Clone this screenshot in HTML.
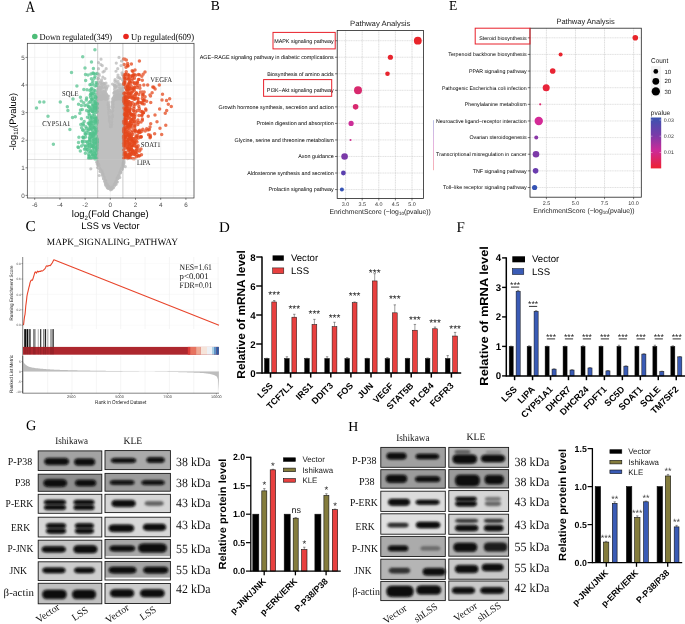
<!DOCTYPE html>
<html><head><meta charset="utf-8"><title>Figure</title>
<style>html,body{margin:0;padding:0;background:#fff;}svg{display:block;will-change:transform;}text{text-rendering:geometricPrecision;}</style></head>
<body><svg width="685" height="624" viewBox="0 0 685 624">
<defs>
<filter id="b1" x="-20%" y="-80%" width="140%" height="260%"><feGaussianBlur stdDeviation="0.85"/></filter>
<filter id="b3" x="-30%" y="-150%" width="160%" height="400%"><feGaussianBlur stdDeviation="1.8"/></filter>
<filter id="b2" x="-20%" y="-100%" width="140%" height="300%"><feGaussianBlur stdDeviation="0.65"/></filter>
<filter id="nz" x="0" y="0" width="100%" height="100%"><feTurbulence type="fractalNoise" baseFrequency="0.35" numOctaves="2" seed="3"/><feColorMatrix type="matrix" values="0 0 0 0 0  0 0 0 0 0  0 0 0 0 0  0 0 0 -0.9 0.55"/><feComposite in2="SourceGraphic" operator="in"/></filter>
</defs>
<rect width="685" height="624" fill="#fff"/>
<text transform="translate(25.5 11.7) scale(0.84 1)" font-family='"Liberation Serif", serif' font-size="15.8" fill="#000">A</text>
<text transform="translate(210.8 9.8) scale(1 1)" font-family='"Liberation Serif", serif' font-size="13.6" fill="#000">B</text>
<text transform="translate(448.9 9.8) scale(1 1)" font-family='"Liberation Serif", serif' font-size="13.6" fill="#000">E</text>
<text transform="translate(25.4 231.4) scale(1 1)" font-family='"Liberation Serif", serif' font-size="15.2" fill="#000">C</text>
<text transform="translate(219.1 231.7) scale(1 1)" font-family='"Liberation Serif", serif' font-size="15" fill="#000">D</text>
<text transform="translate(456.6 231.7) scale(1 1)" font-family='"Liberation Serif", serif' font-size="15" fill="#000">F</text>
<text transform="translate(26 430.1) scale(1 1)" font-family='"Liberation Serif", serif' font-size="14.3" fill="#000">G</text>
<text transform="translate(348.3 430.6) scale(1 1)" font-family='"Liberation Serif", serif' font-size="13.9" fill="#000">H</text>
<rect x="27.3" y="43.3" width="166.7" height="154.7" fill="#fff"/>
<line x1="34.7" y1="43.3" x2="34.7" y2="198" stroke="#ebebeb" stroke-width="0.6"/>
<line x1="47.3" y1="43.3" x2="47.3" y2="198" stroke="#ebebeb" stroke-width="0.35"/>
<line x1="59.9" y1="43.3" x2="59.9" y2="198" stroke="#ebebeb" stroke-width="0.6"/>
<line x1="72.5" y1="43.3" x2="72.5" y2="198" stroke="#ebebeb" stroke-width="0.35"/>
<line x1="85.1" y1="43.3" x2="85.1" y2="198" stroke="#ebebeb" stroke-width="0.6"/>
<line x1="97.7" y1="43.3" x2="97.7" y2="198" stroke="#ebebeb" stroke-width="0.35"/>
<line x1="110.3" y1="43.3" x2="110.3" y2="198" stroke="#ebebeb" stroke-width="0.6"/>
<line x1="122.9" y1="43.3" x2="122.9" y2="198" stroke="#ebebeb" stroke-width="0.35"/>
<line x1="135.5" y1="43.3" x2="135.5" y2="198" stroke="#ebebeb" stroke-width="0.6"/>
<line x1="148.1" y1="43.3" x2="148.1" y2="198" stroke="#ebebeb" stroke-width="0.35"/>
<line x1="160.7" y1="43.3" x2="160.7" y2="198" stroke="#ebebeb" stroke-width="0.6"/>
<line x1="173.3" y1="43.3" x2="173.3" y2="198" stroke="#ebebeb" stroke-width="0.35"/>
<line x1="185.9" y1="43.3" x2="185.9" y2="198" stroke="#ebebeb" stroke-width="0.6"/>
<line x1="27.3" y1="195.4" x2="194" y2="195.4" stroke="#ebebeb" stroke-width="0.6"/>
<line x1="27.3" y1="181.6" x2="194" y2="181.6" stroke="#ebebeb" stroke-width="0.35"/>
<line x1="27.3" y1="167.8" x2="194" y2="167.8" stroke="#ebebeb" stroke-width="0.6"/>
<line x1="27.3" y1="154" x2="194" y2="154" stroke="#ebebeb" stroke-width="0.35"/>
<line x1="27.3" y1="140.2" x2="194" y2="140.2" stroke="#ebebeb" stroke-width="0.6"/>
<line x1="27.3" y1="126.4" x2="194" y2="126.4" stroke="#ebebeb" stroke-width="0.35"/>
<line x1="27.3" y1="112.6" x2="194" y2="112.6" stroke="#ebebeb" stroke-width="0.6"/>
<line x1="27.3" y1="98.8" x2="194" y2="98.8" stroke="#ebebeb" stroke-width="0.35"/>
<line x1="27.3" y1="85" x2="194" y2="85" stroke="#ebebeb" stroke-width="0.6"/>
<line x1="27.3" y1="71.2" x2="194" y2="71.2" stroke="#ebebeb" stroke-width="0.35"/>
<line x1="27.3" y1="57.4" x2="194" y2="57.4" stroke="#ebebeb" stroke-width="0.6"/>
<line x1="27.3" y1="43.6" x2="194" y2="43.6" stroke="#ebebeb" stroke-width="0.35"/>
<polygon points="96.9,97 100,94 103,93 106,95 108.2,99 110.8,127 113,99 115,95 118,93 121.5,94 124.2,97 124.3,160.4 122.7,166 119.5,174 116.3,182 113.5,186.5 110.5,189.3 107.5,186.5 105.4,182 102.2,174 98.2,166 97.2,160.4" fill="#bfbfbf"/>
<path d="M101 59.2h0M98.5 68.7h0M121.5 61h0M122 72.8h0M115 79.7h0M119 83.6h0M118 75h0M106 83h0M100 86.5h0M116 86.5h0M104.85 83.55h0M123.7 81.7h0M103.41 86.92h0M97.54 91.32h0M115 86.66h0M99 98.62h0M118.06 98.2h0M103.87 91.5h0M102.71 87.74h0M106.26 98.89h0M107.12 97.98h0M118.89 97.12h0M117.86 97.43h0M101.11 97.95h0M123.6 95.99h0M123.02 95.27h0M120.26 84.27h0M114.81 95.51h0M103.78 96.74h0M105.03 86.88h0M99.35 96.56h0M102.46 83.11h0M122.38 88.01h0M104.36 71.09h0M120.32 98.54h0M99.63 97.51h0M98.8 93.83h0M102.02 96.51h0M98.8 98.54h0M106.17 95.09h0M114.82 84.85h0M115.42 98.55h0M120.11 98.77h0M105.94 98.84h0M115.07 95.57h0M98.57 81.97h0M98.14 88.8h0M99.85 89.39h0M102.18 92.5h0M117.82 90.94h0M123.49 95.94h0M115.97 98.02h0M121.1 97h0M98.98 89.25h0M120.26 91.63h0M119.23 96.73h0M102.64 95.49h0M102.88 94.27h0M104.13 86.41h0M119.38 93.04h0M101.18 92.39h0M119.31 96.11h0M107.37 96.6h0M106.23 96.38h0M105.66 96.21h0M104.44 95.56h0M120.19 95.61h0M100.23 88.07h0M100.71 98.49h0M116.25 96.12h0M100.31 97.69h0M100.16 96.31h0M105.89 86.74h0M114.8 96.27h0M119.93 90.25h0M117.14 93.8h0M104.11 93.14h0M116.41 80.76h0M97.85 97.11h0M101.72 84.67h0M118.04 81.16h0M101.89 95.17h0M99.53 88.68h0M101.83 81.82h0M121.36 96.7h0M101.4 97.7h0M104.79 92.79h0M105.38 91.96h0M119.51 87.78h0M114.27 92.4h0M104.87 96.63h0M121.6 94.55h0M100.34 98.53h0M100.8 98.51h0M121.09 97.92h0M114.96 96.52h0M97.8 78.76h0M123.77 93.09h0M106.74 94.96h0M101.28 94.6h0M116.04 95.57h0M104.45 98.5h0M103.58 98.44h0M107.37 98.13h0M117.04 96.56h0M97.81 98.2h0M120.13 94.42h0M115.11 98.78h0M115.03 87.94h0M98.15 92.27h0M107.11 95.62h0M104.52 96.19h0M113.98 98.94h0M115.11 91.71h0M97.63 83.61h0M98.05 93.16h0M122.85 95.64h0M100.61 85.31h0M100.08 98.9h0M123.5 96.28h0M114.94 95.65h0M103.19 93.99h0M99.85 89.65h0M115.05 95.81h0M102.2 98.22h0M103.67 94.97h0M116.41 91.98h0M119.05 89.24h0M123.14 96.96h0M99.33 96.62h0M117.33 98.95h0M98.24 78.31h0M122.38 91.96h0M122.68 94.12h0M103.7 96.4h0M120.42 89.06h0M103.12 91.98h0M121.93 94.54h0M118.77 97.75h0M102.18 93.96h0M118.44 98.28h0M115.66 98.24h0M101.38 98.99h0M114.62 96.88h0M123.79 96.76h0M102.83 77.07h0M120.44 89.23h0M99.19 95.8h0M106.69 88.01h0M111.16 126.68h0M112.29 103.51h0M112.6 107.13h0M112.35 115.69h0M109.54 120.52h0M109.52 109.86h0M111.64 124.58h0M109.04 112.45h0M111.26 113.45h0M113.36 99.26h0M108.35 104.53h0M111.68 121.47h0M111.74 118.96h0M109.85 117.6h0M111.05 119.1h0M110.1 116.07h0M111.86 112.04h0M112.41 117.09h0M110.19 122.83h0M110.63 126.64h0M112.35 102.11h0M113.15 100.54h0M109.88 110.3h0M111.32 126.69h0M109.36 119.09h0M112.92 98.35h0M108.3 104.73h0M109.07 106.81h0M112.56 115.36h0M111.59 117.32h0M122.65 96.12h0M122.79 94.38h0M121.82 93.92h0M122.42 93.8h0M121.78 94.85h0M124.12 148.91h0M124.72 104.56h0M124.08 142.03h0M123.75 152.52h0M124.7 124.21h0M122.97 165.53h0M122.95 164.86h0M124.1 162.12h0M123.55 162.88h0M122.29 168.79h0M120.37 171.9h0M119.98 173.02h0M120.28 173.04h0M122.16 167.71h0M116.32 181.01h0M118.07 176.43h0M117.93 178.72h0M117.59 177.41h0M118.55 175.58h0M114.27 184.46h0M115.07 184.23h0M115.55 183.09h0M116.08 182.1h0M111.59 187.6h0M111.2 188.84h0M111.09 188.12h0M111.42 188.3h0M113.29 187.3h0M107.96 187.21h0M108.7 187.44h0M108.76 188.02h0M107.37 187.84h0M108.89 188.26h0M106.24 184.4h0M105.83 182.8h0M105.71 183.59h0M107.35 185.99h0M105.43 181.08h0M102.79 175.04h0M105.66 181.09h0M102.86 174.17h0M103.51 178.75h0M100.03 171.51h0M100.22 171.16h0M100.34 169.53h0M100.23 169.5h0M101.88 171.75h0M98.06 164.67h0M97.03 162.02h0M98.5 164.15h0M97.82 163.53h0M96.9 145.4h0M97.03 150.08h0M97.2 98.7h0M97.26 155.69h0M96.64 118.46h0M125.3 166.6h0M104.8 181h0M117.4 182h0" stroke="#b8b8b8" stroke-width="3.2" stroke-linecap="round" fill="none" opacity="0.75"/>
<path d="M98.5 62.6h0M106.2 68.7h0M121 65.6h0M98.5 78.5h0M120.3 78.5h0M99 74h0M122.5 80h0M114 85h0M108 86h0M121.55 93.36h0M100.24 96.02h0M103.57 97.08h0M116.29 92.51h0M116.31 97.62h0M122.48 97.69h0M123.59 88.69h0M98.44 94.19h0M106.86 97.07h0M103.68 91.7h0M100.54 87.62h0M118.98 95.27h0M115.32 92.69h0M119.97 98.91h0M106.84 95.96h0M122.77 92.14h0M102.62 95.99h0M117.8 92.32h0M119.69 95.99h0M101.61 98.94h0M122.94 96.42h0M119.58 98.82h0M119.96 90.2h0M100.51 88.04h0M106.17 95.49h0M120.99 95h0M117.47 96.92h0M117.66 90.16h0M103.14 93.96h0M100.16 96.4h0M98.45 95.71h0M115.97 86.51h0M121.05 89.77h0M104.93 95.17h0M119.19 96.93h0M120.96 90.8h0M101.69 86.75h0M100.64 98.81h0M98.73 96.32h0M100.02 88.85h0M115.58 93.3h0M102.36 94.42h0M104.85 92.23h0M105.05 98.66h0M123.45 98.08h0M117.95 93.03h0M121.02 97.03h0M119.35 96.7h0M99.7 97.06h0M118.68 84.69h0M101.17 92.06h0M118.26 93.64h0M119.58 95.58h0M101.1 92.79h0M98.16 78.33h0M121.43 96.86h0M121.06 98.17h0M100.02 94.3h0M98.17 97h0M123.05 88.97h0M98.85 89.07h0M115.41 98.68h0M119.88 97.94h0M120.33 98.94h0M105.8 98.89h0M97.68 92.78h0M99.33 98.01h0M113.6 97.76h0M100.11 93.04h0M114.48 96.57h0M121.35 95.6h0M104.09 83.79h0M98.27 98.57h0M116.9 82.8h0M119.65 97.62h0M105.46 94.89h0M103.16 98.22h0M119.23 96.16h0M104.71 95.41h0M106.3 89.57h0M102.14 96.73h0M101.02 98.07h0M99.02 86.9h0M98.76 91.99h0M117.7 97.94h0M101.84 97.06h0M115.2 90.37h0M114.49 92.68h0M100.9 64.59h0M123.21 90.62h0M98.11 97.68h0M104.87 92.9h0M120.1 96.48h0M120.79 98.28h0M107.26 95.98h0M97.85 98.98h0M115.98 89.73h0M97.78 96.85h0M117.08 94.58h0M106.87 95.88h0M105.14 87.16h0M101.2 83.03h0M122.81 84.42h0M114.51 89.45h0M105.64 94.2h0M118.41 96.71h0M102.88 98.22h0M118.42 94.09h0M114.68 85.84h0M120.46 95.27h0M105.77 87.47h0M106.11 85.79h0M99.49 92.28h0M122.73 96.55h0M116.62 98.5h0M114.74 96.33h0M101.22 89.67h0M118.05 92.53h0M118.42 94.19h0M123.74 98.61h0M103.35 93.15h0M122.46 98.4h0M101.56 79.84h0M106.77 87.5h0M114.91 81.55h0M115.5 98.83h0M102.1 97.86h0M117.7 77.33h0M100.23 92.37h0M98.15 96.8h0M99.94 96.9h0M98.32 86.99h0M100.28 88.56h0M114.94 81.34h0M117.49 97.9h0M116.93 97.31h0M114.05 96.6h0M115.95 98.76h0M104.58 96.05h0M99.22 94.18h0M111.54 118.17h0M108.21 105.09h0M112.45 116.16h0M110.14 117.95h0M112.85 105.96h0M112.61 110.39h0M110.31 119.93h0M109.89 117.03h0M112.71 102.82h0M110.57 123.64h0M112.94 107.25h0M108.23 105.06h0M108.73 107.48h0M108.32 103.24h0M109.55 110.35h0M109.47 118.57h0M113.03 100.82h0M111.52 111.74h0M109.32 109.67h0M110.94 125.13h0M109 106.82h0M114.01 97.22h0M113.2 103.96h0M111.76 111.34h0M112.47 105.79h0M109.49 116.96h0M110.97 117.18h0M110.96 122.79h0M108.46 107.35h0M110.51 125.94h0M122.04 94.98h0M122.66 95.05h0M123.15 96.06h0M121.19 93.77h0M124.55 96.48h0M124.34 154.85h0M123.92 99.46h0M124.34 99.6h0M124.26 118.65h0M123.73 162.96h0M122.97 165.03h0M124.02 160.32h0M123.15 166.28h0M123.82 163.26h0M122.1 168.32h0M120.37 171.81h0M121.31 169.95h0M122.04 169.62h0M120.69 169.61h0M118.83 176.96h0M119.05 175.95h0M118.72 177.61h0M117.47 177.8h0M114.43 185.44h0M114.63 185.86h0M116 181.61h0M115.79 182.53h0M116.61 181.84h0M113.31 187.86h0M111.72 189.15h0M111.33 189.28h0M110.57 189.8h0M112.75 186.68h0M108.59 187.29h0M108.79 186.31h0M108.96 188.46h0M108.11 187.94h0M107.42 185.57h0M105.37 183.79h0M106.8 183.8h0M105.51 184.96h0M105.88 183h0M102.84 176.17h0M105.2 180.02h0M104.89 180.99h0M102.64 175.53h0M102.32 174.95h0M102.03 173.32h0M99.02 168.03h0M98.3 166.35h0M99.54 167.96h0M96.86 162.01h0M97.98 164.21h0M98.25 165.12h0M97.59 161.42h0M97.26 164.32h0M96.52 118.71h0M96.88 120.73h0M96.78 107.8h0M97.55 138.41h0M97.27 157.73h0M97.5 167.5h0M120.7 172.5h0M116.2 184.3h0" stroke="#b8b8b8" stroke-width="3.2" stroke-linecap="round" fill="none" opacity="0.75"/>
<path d="M102.3 65.6h0M119 57.4h0M117.7 68.7h0M104.9 78.5h0M101 83.6h0M103 72h0M97.8 84h0M123 86h0M112.5 84h0M106.19 97.86h0M102.4 93.09h0M102.64 98.67h0M104.36 97.39h0M122.28 91.28h0M98.09 98.3h0M120.2 91.82h0M120.52 93.16h0M115.17 94.87h0M117.87 94.37h0M117.34 98.92h0M119.63 96.38h0M121.26 98.98h0M121.06 92.68h0M116.42 95.71h0M117.93 97.63h0M121.83 96.37h0M99.61 97.56h0M123.4 97.75h0M121.11 91.9h0M97.7 98.77h0M97.71 94.38h0M97.88 89.45h0M105.17 91.45h0M103.62 90.72h0M115.39 93.7h0M103.86 92.56h0M99.57 91.39h0M105.12 98.81h0M103.46 91.18h0M122.22 74.8h0M104.58 88.24h0M122.23 92.93h0M117.53 94.73h0M122.08 96.02h0M115.99 71.24h0M122.93 96.39h0M101.77 86.59h0M98.68 90.48h0M118.86 97.39h0M107.25 98.04h0M116.75 98.81h0M120.97 86.67h0M103.37 95.69h0M116.83 87.11h0M117.2 91.44h0M101.94 88.27h0M114.54 85.75h0M99.36 87.43h0M120.65 88.53h0M102.27 88.26h0M117.52 98.75h0M100.41 98.22h0M122.7 92.19h0M118.63 97.44h0M102.57 84.75h0M114.36 94.46h0M103.48 88.59h0M104.05 83.68h0M121.43 96.93h0M98.85 98.52h0M97.65 92.85h0M105.41 92.72h0M115.92 93.54h0M120.54 95.91h0M117.92 96.29h0M106.73 97.88h0M115.25 92.47h0M121.91 97.5h0M103.51 96.65h0M117.78 86.69h0M100.07 83.23h0M99.2 95.54h0M114.41 96h0M113.85 93.19h0M107.07 96.71h0M120.25 94.4h0M102.34 96.09h0M101.18 96.61h0M99.22 96.84h0M115.3 98.11h0M116.28 63.09h0M102.48 95.31h0M103.25 95.01h0M122.66 95.62h0M115.57 85.7h0M114.47 98.75h0M119.38 95.73h0M123.72 82.22h0M104.7 89.43h0M120.48 95.11h0M103.79 96.74h0M103.15 94.47h0M99.29 75.5h0M118.88 98.37h0M115.6 98.73h0M116.03 98.72h0M98.76 98.9h0M104.19 96.77h0M119.14 86.82h0M115.35 98.42h0M97.58 93.22h0M106.76 96.27h0M118.02 97.62h0M119.69 86.97h0M114.67 86.54h0M100.45 98.41h0M121.81 94.81h0M117.59 92.98h0M122.69 93.41h0M115.82 92.72h0M100.13 98.57h0M117.75 94.35h0M106.04 93.82h0M115.17 98.93h0M119.59 85.5h0M119.36 96.54h0M99.23 95.72h0M100.55 92h0M118.63 98.43h0M117.1 92.61h0M121.55 95.54h0M100.33 89.63h0M98.45 93.98h0M116.31 97.04h0M102.87 94.49h0M114.64 86.41h0M106.23 96.01h0M100.22 81.94h0M116.72 96.19h0M106.42 93.96h0M100.56 90.22h0M123.19 86.2h0M122.4 97.86h0M119.38 77.63h0M99.3 92.59h0M97.99 95.83h0M119.06 95.96h0M117.32 91.61h0M103.57 96.55h0M112.49 107.34h0M108.67 106.66h0M110.21 125.93h0M111.23 117.13h0M109.56 116.54h0M108.11 98.72h0M112.2 107.76h0M112.71 106.71h0M112.33 116.36h0M111.59 111.33h0M111.84 113.98h0M108.98 114.96h0M112.51 105.36h0M111.78 110.39h0M109.41 121.33h0M110.41 121.73h0M108.52 109.07h0M111.04 125.46h0M112.65 102.04h0M111.45 122.45h0M108.61 112.62h0M109.04 101.88h0M109.41 112.6h0M108.84 102.05h0M108.83 105.1h0M112.7 99.26h0M109.4 120.89h0M108.5 96.09h0M108.27 98.07h0M111.43 112.58h0M122.11 94.58h0M122.17 94.6h0M123.54 96.4h0M123.57 95.64h0M123.91 126.85h0M123.89 131.05h0M123.77 105.23h0M124.21 154.41h0M124.94 117.89h0M123.67 163.97h0M122.8 163.15h0M122.69 166.5h0M123.09 165.71h0M123.23 162.7h0M119.85 173.04h0M119.74 173.07h0M120.47 171.89h0M121.68 168.23h0M116.44 181.76h0M117.53 178.6h0M116.64 181.45h0M118.76 175.67h0M116.92 178.47h0M114.86 184.51h0M115.06 183.56h0M115.47 182.84h0M114.51 183.9h0M115.74 182.68h0M112.12 188.03h0M110.79 188.61h0M111.99 187.64h0M111.68 188.77h0M107.81 187.17h0M108.21 187.94h0M109.04 187.52h0M111.32 188.97h0M109.47 187.38h0M106.33 183.92h0M105.69 182.37h0M106.5 186.2h0M106.96 185.44h0M107.58 184.74h0M104.29 177.36h0M103.82 178.22h0M104.93 181.83h0M103.62 178.16h0M99.88 168.92h0M102.8 173.63h0M100.44 171.22h0M101.91 170.83h0M101.75 171.55h0M97.27 162.71h0M98.96 164.95h0M98.44 164.28h0M98.67 165.48h0M98.86 165.05h0M96.98 143.23h0M96.67 111.96h0M96.8 118.85h0M96.62 107.95h0M90.8 168.8h0M99.3 175.5h0M119.8 177.5h0" stroke="#b8b8b8" stroke-width="3.2" stroke-linecap="round" fill="none" opacity="0.75"/>
<path d="M93.24 101.08h0M96.99 142.01h0M94.33 78.16h0M89.62 124.83h0M94.97 94.19h0M94.05 127.38h0M81.59 127.74h0M94.77 139.58h0M88.9 146.2h0M89.54 158.36h0M93.57 73.53h0M89.32 144.04h0M95.73 97.14h0M85.5 74.52h0M79.83 113.13h0M91.78 136.92h0M86.71 132.16h0M91.56 146.19h0M89.4 137.72h0M94.28 103.53h0M88.78 129.18h0M88.66 154.29h0M89 102.68h0M92.64 93.61h0M95.32 141.53h0M91.04 89.18h0M96.19 142.27h0M80.34 151.05h0M92.58 104.27h0M91.4 78.64h0M86.16 133.04h0M91 146.48h0M78.53 104.22h0M89.76 137.42h0M93.24 133.76h0M90.32 127.24h0M91.97 102.53h0M95.56 155.14h0M96.57 146.66h0M94.41 133.64h0M93.16 145.13h0M90.41 134.63h0M67.32 106.82h0M85.41 145.89h0M87.37 149.51h0M88.87 106.71h0M89.47 141.35h0M82.69 130.02h0M90.48 133.8h0M83.78 137.96h0M96.95 146.08h0M95.19 103.12h0M96.4 107.34h0M91.79 123.45h0M95.45 121.25h0M95.65 133.68h0M89.99 106.96h0M94.74 158.64h0M90.27 95.36h0M89.96 141.15h0M94.16 148.95h0M96.67 148.23h0M91.76 129.3h0M96.81 103.4h0M90.15 110.03h0M91.23 121.93h0M94.27 123.17h0M95.55 118.55h0M83.1 123.94h0M90.58 151.76h0M94.15 106.81h0M94.5 140.07h0M91.47 158.2h0M96.82 140.42h0M82.73 123.73h0M90.9 73.89h0M94.29 114.95h0M91.01 136.78h0M96.74 131.04h0M87.15 141.7h0M95.59 139.33h0M91.75 99.55h0M93.94 142.35h0M71.5 72.4h0M76.9 85.9h0M85 68h0M80.5 110h0M92.5 155h0" stroke="#52c08c" stroke-width="3.5" stroke-linecap="round" fill="none" opacity="0.72"/>
<path d="M96.46 144.14h0M95.92 109.58h0M95.91 132.45h0M90.94 93.63h0M91.89 143.61h0M88.54 111.13h0M82.93 137.16h0M92.2 136.16h0M96.28 136.37h0M75.32 116.8h0M94.45 118.12h0M93.49 146.78h0M96.07 147.44h0M80.82 124.62h0M89.32 147.94h0M93.35 97.99h0M96.71 150.2h0M90.6 133.75h0M92.87 154.04h0M96.29 82.53h0M82.41 141.66h0M86.88 128.5h0M96.21 118.21h0M94.52 143.05h0M81.28 101.12h0M83.92 130.75h0M95.43 155.07h0M86.34 99.99h0M96.4 121.04h0M95.5 137.19h0M95.18 155.8h0M89.12 123.21h0M85.7 146.51h0M92.32 138.02h0M83.71 102.77h0M84.82 105.51h0M86.34 128.38h0M89.34 156.3h0M96.92 140.21h0M90.67 117.7h0M96.99 73.44h0M93.54 134.02h0M92.93 72.92h0M89.34 118.05h0M95.01 90.76h0M96 105.41h0M95.36 143.17h0M96.57 106.45h0M97.04 108.27h0M94.33 108.06h0M92.18 134.79h0M95.59 135.82h0M89.62 115.02h0M81.41 118.68h0M85.59 148.61h0M93.69 144.34h0M96.95 141.67h0M82.91 144.74h0M92.56 111.49h0M86.62 110.52h0M94.75 152.46h0M90 139.87h0M91.54 138.13h0M95.8 132.32h0M92.16 150.63h0M80.46 97.17h0M95.57 143.91h0M92.15 98.91h0M83.43 124.95h0M94.72 128.53h0M60.29 102.06h0M82.28 109.53h0M95.88 157.51h0M96.44 138.64h0M85.11 133.79h0M81.52 146.07h0M87.07 147.66h0M91.18 142.77h0M95.96 103.69h0M97.03 144.19h0M96.98 142.7h0M95.05 110.56h0M94.11 111.12h0M39.7 101.9h0M67.9 110.6h0M88 75h0M83 130h0" stroke="#52c08c" stroke-width="3.5" stroke-linecap="round" fill="none" opacity="0.72"/>
<path d="M93.81 151.15h0M93.2 147.79h0M94.38 119.01h0M90.39 110.09h0M96.54 153.2h0M92.39 131.87h0M89.57 107.82h0M78.51 147.54h0M95.71 123.69h0M95.23 120.47h0M95.72 100.42h0M91.02 125.31h0M83.82 89.59h0M92.99 135.14h0M89.59 140.36h0M95.03 129.79h0M95.41 123.73h0M94.39 157.08h0M96.12 152.11h0M91.55 128.82h0M91.24 152.59h0M92.33 121.04h0M96.01 124.2h0M92.53 111.44h0M84.14 121.38h0M92.9 108.84h0M85.36 153.28h0M94.63 143.55h0M90.28 122.73h0M88.2 123.29h0M93.85 134.61h0M96.15 122.59h0M92.07 154.66h0M91.82 120.45h0M72.5 117.52h0M92.15 111.6h0M85.66 80.61h0M53.37 144.19h0M93.6 126.23h0M92.86 106.05h0M94.97 108.59h0M88.97 113.94h0M88.55 158.37h0M92.88 106.7h0M87.45 117.26h0M92.45 107.77h0M95.67 122.78h0M95.88 117.05h0M90.16 120.39h0M92.37 95.36h0M96.93 147.93h0M88.08 130.87h0M95.35 103.52h0M96.2 148.75h0M87.3 142.15h0M93.86 84.94h0M88.44 106.85h0M95.93 125.06h0M96.32 108.22h0M91.74 117.15h0M96.98 103.63h0M89.93 84.71h0M95.27 86.12h0M96.22 129.28h0M97.07 120.44h0M85.58 136.94h0M84.45 149.31h0M96.98 138.92h0M95.71 151.09h0M92.81 80.99h0M90.36 121.21h0M87.67 143.82h0M93.38 140.39h0M91.76 146.41h0M91.82 88.26h0M93 141.2h0M88.47 123.18h0M89.9 90.55h0M88.78 111.49h0M93.93 107.24h0M96.41 124.48h0M92.06 99.31h0M94.9 49.7h0M43.9 101.9h0M69.9 129.5h0M91.5 62h0M86 150h0" stroke="#52c08c" stroke-width="3.5" stroke-linecap="round" fill="none" opacity="0.72"/>
<path d="M93.29 154.96h0M95.08 76.13h0M92.08 124.75h0M92.52 108.99h0M91.18 122.12h0M93.54 146.5h0M91.77 92.3h0M48 116.13h0M83.06 137.37h0M91.87 118.21h0M85.6 134.31h0M91.24 84.48h0M94.69 109.75h0M93.62 127.31h0M93.95 112.43h0M91.05 93.9h0M94.99 101.69h0M91.43 116.83h0M90.15 150.26h0M96.73 83.97h0M92.15 117.63h0M94.49 121.25h0M93.3 105.22h0M96.5 158.75h0M93.7 132.36h0M92.4 90.38h0M89.26 133.61h0M90.12 127.16h0M92.42 146.06h0M92.22 83.27h0M90.26 137.11h0M96.04 108.52h0M96.64 85.4h0M90.35 150.75h0M88.64 145.27h0M96.67 141.91h0M90.02 137.52h0M86.6 98.01h0M82.41 141.35h0M93.9 90.06h0M93.44 136.58h0M94.69 139.55h0M87.02 89.83h0M96.94 122.79h0M96.94 111.43h0M88.97 134.05h0M89.81 123.88h0M92.7 135.6h0M96.02 97.62h0M90.54 97.2h0M95.52 105.22h0M78.9 137.24h0M95.74 111.68h0M93.77 92.71h0M77.97 147.12h0M95.02 132.22h0M93.85 121.42h0M88.61 151.39h0M90.6 134.8h0M96.73 104.68h0M92.75 115.58h0M94.91 153.34h0M93.42 68.58h0M90.18 128.9h0M96.09 112.5h0M95.17 130.96h0M95.48 96.3h0M95.55 158.67h0M84.63 141.62h0M90.77 157.94h0M87.04 104.88h0M93.78 157.46h0M93.29 139.91h0M81.4 105.52h0M90.25 144.47h0M91.82 135.4h0M85.92 126.86h0M95.3 74.26h0M90.27 101.61h0M95.29 97.74h0M93.38 112.32h0M96.24 127.83h0M82.7 56.7h0M36.5 108h0M78.5 142.6h0M73 99h0M89 156h0" stroke="#52c08c" stroke-width="3.5" stroke-linecap="round" fill="none" opacity="0.72"/>
<path d="M130.95 154.71h0M129.72 136.93h0M131.47 137.19h0M141.99 131.23h0M139.97 132.02h0M125.64 94.39h0M128.22 144.92h0M126.22 112.84h0M130.63 135.28h0M128.32 97.02h0M129.37 130.22h0M127.4 140.89h0M126.48 125.25h0M138.62 122.58h0M127 115.91h0M134.69 111.21h0M128.23 79.23h0M125.51 114.7h0M129.51 111.36h0M129.46 81.49h0M129.89 128.1h0M137.88 148.43h0M127.69 125.54h0M126.3 154.48h0M125.18 128.91h0M124.85 123.11h0M133.68 151.14h0M144.14 103.9h0M132.77 144.21h0M129.28 157.61h0M124.6 113.42h0M135.85 75.23h0M134.8 154.61h0M124.2 145.14h0M130.21 93.54h0M129.3 157.23h0M125.01 79.63h0M129.51 125.23h0M124.28 101.86h0M123.58 59.1h0M123.76 132.1h0M127.12 142.2h0M135.22 154.79h0M125.45 156.77h0M126.61 145.98h0M134.66 87.36h0M124.97 124.94h0M126.9 142.61h0M131.49 149.48h0M138.28 101.38h0M132.65 97.88h0M142.72 113.11h0M137.3 82.07h0M124.72 137.1h0M126.59 114.04h0M150.21 135.28h0M123.92 107.88h0M131.07 145.4h0M128.36 124.74h0M134.99 130.77h0M134.89 99h0M126.1 154.5h0M132.96 71.62h0M129.59 136.69h0M123.87 97.66h0M128.61 90.34h0M138.49 131.85h0M132.58 89.51h0M136.25 135.64h0M125.54 87.43h0M125.11 113.35h0M132.24 145.18h0M133.47 143.12h0M126.58 136.31h0M127.14 95.42h0M129.03 78.64h0M131.88 114.61h0M150.74 102.38h0M125.64 74.51h0M125.53 121.34h0M136.52 150.18h0M130.6 104.87h0M141.63 102.44h0M127.26 134.3h0M127.43 104.9h0M124.13 152.93h0M123.74 84.19h0M130.96 92.17h0M129.15 86.75h0M124.8 95.8h0M138.42 137.99h0M124.45 93.33h0M126.21 119.94h0M129.51 154.37h0M131.45 119.64h0M129.61 91.31h0M127.3 131.57h0M126.21 96.44h0M130.25 95.67h0M123.63 130.33h0M127.99 126.39h0M127.77 158.54h0M125.17 154.41h0M130.07 136.7h0M126.31 137.04h0M125.73 107.32h0M123.93 154.93h0M134.97 126.09h0M147.69 84.91h0M128.75 155.55h0M134.16 121.53h0M128.39 110.9h0M126.83 89.27h0M128.24 93.09h0M135.26 152.03h0M149.98 127.07h0M124.65 99.36h0M137.26 155.11h0M139.12 79.38h0M136.63 154.29h0M142.49 95.72h0M131.89 140.53h0M146.64 101.19h0M124.75 109.61h0M128.39 138.7h0M132.16 153.74h0M133.95 108.59h0M130.23 149.07h0M130.41 151.82h0M126.88 100.5h0M126.49 154.59h0M134.97 143.8h0M133.61 151.07h0M126.47 144.64h0M138.84 94.54h0M128.13 147.82h0M127.63 147.44h0M135.67 111.94h0M130.35 124.45h0M124.55 80.68h0M133.39 108.97h0M125.36 106.8h0M126.32 59.97h0M126.03 152.45h0M128.96 124.97h0M132.7 91.32h0M125 59.3h0M159.3 84.9h0M157 121.8h0M128 66h0M155 115h0" stroke="#e4461a" stroke-width="3.5" stroke-linecap="round" fill="none" opacity="0.74"/>
<path d="M127.4 86.8h0M128.06 93.44h0M123.95 98.12h0M142.62 93.41h0M124.03 99.28h0M130.34 121.18h0M136.02 147.21h0M130.52 125.86h0M132.88 115.12h0M125.52 122.77h0M129.71 81.98h0M137.01 141.91h0M124.21 64.52h0M134.05 158.72h0M130.28 138.48h0M129.26 78.82h0M137.94 99.07h0M128.46 135.05h0M125.38 133.45h0M171.3 106.46h0M125.55 119.02h0M130.47 113.78h0M159.97 128.21h0M136.4 93.02h0M127.68 106.48h0M124.19 130.02h0M129.08 133.82h0M132.21 139h0M123.62 131.27h0M139.31 131.86h0M124.35 139.4h0M124.68 99.9h0M127.01 127.8h0M134.64 83.84h0M126.53 133.23h0M127.8 114.71h0M142.4 103.87h0M155.1 88.97h0M141.07 121.98h0M123.53 138.03h0M125.87 135.68h0M128.05 146.38h0M127.17 147.21h0M125.03 100.77h0M136.43 138.2h0M124.49 137.61h0M132.75 118.96h0M125.91 154.48h0M135.32 98.21h0M132.2 102.48h0M139.82 85.62h0M133.34 75.33h0M148.24 116.14h0M126.4 142.81h0M124.57 77.88h0M124.47 143.41h0M126.46 110.27h0M137.72 85.45h0M123.71 128.5h0M139.9 88.17h0M125.26 133.31h0M131.31 135.53h0M133.63 103.99h0M142.38 111.38h0M131.01 76.62h0M127.93 142.28h0M144.13 92.12h0M134.2 118.08h0M124.43 104.03h0M124.84 114.9h0M125.3 141.03h0M128.24 111.52h0M124.78 137.8h0M129.7 154.46h0M134.39 138.76h0M129.37 75.96h0M125.61 108.65h0M126.86 144.18h0M123.75 123.07h0M125.04 117.99h0M125.73 121.9h0M140.42 92.03h0M129.21 101.73h0M127.97 102.5h0M136.98 151.67h0M124.16 137.23h0M138.8 106.24h0M143.79 100.53h0M132.75 158.61h0M145.09 96.73h0M128.41 118.37h0M135.54 94.54h0M133.16 74.88h0M130.56 88.52h0M129.61 118.51h0M141.01 136.92h0M169.65 98.74h0M152.12 92.8h0M124.41 100.7h0M126.25 71.73h0M139.38 74.7h0M141.48 154.71h0M131.35 114.94h0M143.53 112.86h0M128.1 156.05h0M154.63 133.66h0M126.15 102.03h0M138.14 145.71h0M150.05 137.73h0M130.05 149.26h0M132.87 116.38h0M135.38 94.29h0M129.62 143.92h0M127.32 101.95h0M142.28 120.38h0M126.04 134.58h0M150.7 123.87h0M136.27 149.24h0M125.71 143.22h0M165.25 113.15h0M148.54 134.66h0M134.95 114.67h0M129.3 82.91h0M129.15 124.47h0M133.05 145.48h0M124.45 134.95h0M124.19 121.44h0M152.79 87.1h0M131.27 138.79h0M135.28 130.13h0M137.69 103.18h0M123.66 158.16h0M142.27 91.97h0M124.53 132.73h0M142.27 98.39h0M130.23 108.98h0M124.77 145.28h0M125.04 81.93h0M124.63 121.47h0M128.67 109.63h0M141.73 115.75h0M125.52 99.76h0M132.46 122.01h0M128.67 89.37h0M125.74 104.8h0M134.66 140.95h0M139.4 60.9h0M168.3 104.2h0M141 149h0M135 70h0M148 130h0" stroke="#e4461a" stroke-width="3.5" stroke-linecap="round" fill="none" opacity="0.74"/>
<path d="M125.77 154.31h0M125.92 155.19h0M136.15 140.81h0M145.94 110.19h0M150.49 95.93h0M137.03 120.92h0M137.52 82.65h0M129.51 136.48h0M142.39 119.07h0M125.16 115.97h0M126.65 119.23h0M129.19 146.03h0M125.4 154.81h0M124.91 148.27h0M130.43 97.07h0M132.02 152.3h0M129.06 142.67h0M132.07 123.49h0M126.09 102.26h0M123.7 149.93h0M131.67 149.2h0M126.69 123.09h0M128.98 149.95h0M128.23 126.07h0M127.88 139.39h0M127.18 112.75h0M124.87 92.97h0M143.31 100.49h0M129.95 122.38h0M124.46 122.95h0M136.34 93.02h0M139.85 110.86h0M123.87 83.83h0M125.06 140.82h0M129.55 88.49h0M126.67 90.12h0M123.8 101.93h0M128.55 110.38h0M133.65 141.98h0M133.25 75.69h0M125.47 137.75h0M128.64 157.7h0M127.28 98.07h0M135.31 96.44h0M166.55 100.49h0M124.85 102.61h0M128.09 103.36h0M127.58 63.51h0M126.58 122.71h0M135.47 131.98h0M124.81 152.23h0M128.79 84.64h0M127.15 104.72h0M127.44 86.2h0M125.41 74.33h0M131.44 80.38h0M125.34 157.45h0M124.79 132.21h0M130.01 96.89h0M138.73 130.9h0M133.39 89.07h0M125.99 67.29h0M124.12 142.96h0M125.98 116.41h0M126.3 109.79h0M134.8 116.41h0M129.11 117.14h0M134.46 78.31h0M134.24 143.57h0M124.94 111.44h0M131.5 140.35h0M134.77 143.97h0M141.92 114.94h0M127.67 124.81h0M129.9 108.2h0M134.13 120.63h0M135.91 93.73h0M130.34 123.3h0M125.08 115.42h0M126.19 98.4h0M141.35 136.68h0M129.42 112.67h0M124.24 83.14h0M124.05 140.27h0M132.73 119.36h0M130.45 148.57h0M137.29 110.45h0M133.63 143.26h0M150.4 136.82h0M135.84 131.41h0M143.36 112.84h0M127.99 87.56h0M128.46 140.73h0M132.51 81.7h0M125.45 114.11h0M133.85 143.72h0M124.11 132.38h0M129.29 142.75h0M125.42 96.91h0M131.18 86.15h0M124.2 130.16h0M131.91 132.52h0M130.15 125.13h0M124.84 99.67h0M134.14 118.72h0M124.17 77.98h0M131.17 147.01h0M123.59 121.32h0M133.54 153.42h0M138.92 115.52h0M127.01 123.01h0M126.21 139.94h0M128.72 134.75h0M127.83 74.59h0M130.74 93.85h0M123.88 135.76h0M124.81 131.86h0M123.72 93.54h0M142.32 80.33h0M133.93 106.48h0M128.37 148.45h0M125.33 118.46h0M133.79 145.64h0M140.97 111.58h0M133.74 116.34h0M125.08 109.08h0M124.92 84.47h0M131.14 115.02h0M133.53 96.86h0M124.64 123.45h0M137.87 135.56h0M127.04 112.54h0M133.61 151.61h0M124.28 74.79h0M134.24 154.37h0M137.94 120h0M124.18 131.34h0M145.24 131.01h0M132.61 75.39h0M138.34 74.47h0M134.13 144.23h0M128.67 108.15h0M131.82 92.54h0M131.26 142.86h0M137.84 98.17h0M128.08 113h0M131.4 64.1h0M166.7 110.6h0M138.5 156h0M150 95h0" stroke="#e4461a" stroke-width="3.5" stroke-linecap="round" fill="none" opacity="0.74"/>
<path d="M123.66 146.1h0M128.25 103.37h0M136.5 146.55h0M127.74 96.55h0M133.39 114.16h0M125.29 101.31h0M130.6 148.71h0M129.46 136.35h0M133.05 95.73h0M132.01 140.98h0M128.57 102.77h0M128.17 128.27h0M125.31 115.36h0M132.18 70.7h0M124.62 153.7h0M146.67 128.84h0M132.52 125.44h0M127.38 86.86h0M139.27 108.42h0M128.37 101.27h0M134.3 142.14h0M143.24 94.39h0M125.03 120.45h0M123.88 99.47h0M126.89 123.63h0M165.77 125.13h0M126.41 102.85h0M149.36 129.61h0M137.28 87.42h0M124.64 127.75h0M124.02 145.43h0M127.23 92.38h0M139.83 130.27h0M123.52 143.74h0M128.57 150.54h0M128.16 126.78h0M126.99 89.27h0M129.75 110.71h0M131.11 154.47h0M127.09 77.45h0M132.4 76.94h0M126.53 122.05h0M124.88 143.35h0M132.46 138.58h0M129.33 153.64h0M131.61 146.59h0M136.49 156.78h0M123.63 100.78h0M134.3 90.13h0M138.48 79.5h0M124.09 82.98h0M125.75 103.11h0M130.25 102.67h0M124.66 127.18h0M124.97 119.4h0M133.27 87.95h0M126.5 155.65h0M138.19 102.51h0M138.32 132.35h0M129.83 93.84h0M132.52 130.87h0M135.4 153.07h0M135.58 104.34h0M129.66 133.04h0M128.82 97.18h0M135.96 136.89h0M130.59 105.61h0M131.89 152.91h0M128.02 84.01h0M131.72 97.98h0M123.55 136.53h0M143.84 84.89h0M132.44 150.78h0M142.84 129.21h0M140.34 137h0M125.08 155.02h0M133.45 138.76h0M128.22 156.81h0M130.25 121.92h0M134.65 82.66h0M161.69 134.59h0M129.19 127.06h0M130.95 83.35h0M127.17 87.62h0M127.28 132.03h0M131.08 148.13h0M127.92 92.58h0M134.22 74.61h0M130.1 157.72h0M124.41 114.45h0M130.91 154.2h0M126.92 109.41h0M143.13 74.28h0M125.25 135.5h0M125.97 99.67h0M128.79 124.71h0M126.55 78.58h0M140.15 132.61h0M130.81 104.28h0M123.66 137.11h0M135.5 123.57h0M128.51 88.65h0M123.99 76.27h0M132.72 78.85h0M137.8 124.57h0M127.36 90.11h0M125.52 97.04h0M126.52 127.5h0M125.59 154.13h0M139.6 155.8h0M139.67 151.1h0M131.34 138.78h0M130.07 143.23h0M124.32 137.92h0M132.84 134.33h0M140.12 102.85h0M130.35 157.78h0M127.67 65.59h0M127.39 115.14h0M134.92 87.65h0M162.52 94.14h0M134.07 99.26h0M128.66 139.76h0M124.74 102.99h0M124.59 133.8h0M130.68 114.01h0M126.77 129.84h0M124.17 128.74h0M127.78 156.26h0M134.39 125.89h0M128.99 75.15h0M126.18 135.85h0M126.82 111.91h0M125.69 99.05h0M126.24 110.9h0M145.72 108.99h0M136.08 83.97h0M132.43 127.18h0M126.5 107.3h0M141.84 76.19h0M123.85 142.07h0M127.87 149.38h0M124.08 140.21h0M133.47 110.83h0M134.68 128.32h0M144.34 99.81h0M153.8 87.2h0M159.6 109h0M145 72h0M162 100h0" stroke="#e4461a" stroke-width="3.5" stroke-linecap="round" fill="none" opacity="0.74"/>
<line x1="97.7" y1="43.3" x2="97.7" y2="198" stroke="#a8a8a8" stroke-width="0.55"/>
<line x1="122.9" y1="43.3" x2="122.9" y2="198" stroke="#a8a8a8" stroke-width="0.55"/>
<line x1="27.3" y1="159.52" x2="194" y2="159.52" stroke="#c4c4c4" stroke-width="0.6"/>
<rect x="27.3" y="43.3" width="166.7" height="154.7" fill="none" stroke="#333" stroke-width="0.7"/>
<line x1="25.5" y1="195.4" x2="27.3" y2="195.4" stroke="#333" stroke-width="0.6"/>
<text x="24.7" y="197.6" font-family='"Liberation Sans", sans-serif' font-size="6.3" fill="#4d4d4d" text-anchor="end">0</text>
<line x1="25.5" y1="167.8" x2="27.3" y2="167.8" stroke="#333" stroke-width="0.6"/>
<text x="24.7" y="170" font-family='"Liberation Sans", sans-serif' font-size="6.3" fill="#4d4d4d" text-anchor="end">1</text>
<line x1="25.5" y1="140.2" x2="27.3" y2="140.2" stroke="#333" stroke-width="0.6"/>
<text x="24.7" y="142.4" font-family='"Liberation Sans", sans-serif' font-size="6.3" fill="#4d4d4d" text-anchor="end">2</text>
<line x1="25.5" y1="112.6" x2="27.3" y2="112.6" stroke="#333" stroke-width="0.6"/>
<text x="24.7" y="114.8" font-family='"Liberation Sans", sans-serif' font-size="6.3" fill="#4d4d4d" text-anchor="end">3</text>
<line x1="25.5" y1="85" x2="27.3" y2="85" stroke="#333" stroke-width="0.6"/>
<text x="24.7" y="87.2" font-family='"Liberation Sans", sans-serif' font-size="6.3" fill="#4d4d4d" text-anchor="end">4</text>
<line x1="25.5" y1="57.4" x2="27.3" y2="57.4" stroke="#333" stroke-width="0.6"/>
<text x="24.7" y="59.6" font-family='"Liberation Sans", sans-serif' font-size="6.3" fill="#4d4d4d" text-anchor="end">5</text>
<line x1="34.7" y1="198" x2="34.7" y2="199.8" stroke="#333" stroke-width="0.6"/>
<text x="34.7" y="206.5" font-family='"Liberation Sans", sans-serif' font-size="6.3" fill="#4d4d4d" text-anchor="middle">-6</text>
<line x1="59.9" y1="198" x2="59.9" y2="199.8" stroke="#333" stroke-width="0.6"/>
<text x="59.9" y="206.5" font-family='"Liberation Sans", sans-serif' font-size="6.3" fill="#4d4d4d" text-anchor="middle">-4</text>
<line x1="85.1" y1="198" x2="85.1" y2="199.8" stroke="#333" stroke-width="0.6"/>
<text x="85.1" y="206.5" font-family='"Liberation Sans", sans-serif' font-size="6.3" fill="#4d4d4d" text-anchor="middle">-2</text>
<line x1="110.3" y1="198" x2="110.3" y2="199.8" stroke="#333" stroke-width="0.6"/>
<text x="110.3" y="206.5" font-family='"Liberation Sans", sans-serif' font-size="6.3" fill="#4d4d4d" text-anchor="middle">0</text>
<line x1="135.5" y1="198" x2="135.5" y2="199.8" stroke="#333" stroke-width="0.6"/>
<text x="135.5" y="206.5" font-family='"Liberation Sans", sans-serif' font-size="6.3" fill="#4d4d4d" text-anchor="middle">2</text>
<line x1="160.7" y1="198" x2="160.7" y2="199.8" stroke="#333" stroke-width="0.6"/>
<text x="160.7" y="206.5" font-family='"Liberation Sans", sans-serif' font-size="6.3" fill="#4d4d4d" text-anchor="middle">4</text>
<line x1="185.9" y1="198" x2="185.9" y2="199.8" stroke="#333" stroke-width="0.6"/>
<text x="185.9" y="206.5" font-family='"Liberation Sans", sans-serif' font-size="6.3" fill="#4d4d4d" text-anchor="middle">6</text>
<text x="110.3" y="217.1" font-family='"Liberation Sans", sans-serif' font-size="9.5" fill="#000" text-anchor="middle">log<tspan font-size="6.2" dy="2.4">2</tspan><tspan dy="-2.4">(Fold Change)</tspan></text>
<text x="110.4" y="228.7" font-family='"Liberation Sans", sans-serif' font-size="9.5" fill="#000" text-anchor="middle" textLength="58.2" lengthAdjust="spacingAndGlyphs">LSS vs Vector</text>
<text x="15.9" y="121.7" font-family='"Liberation Sans", sans-serif' font-size="9.4" fill="#000" text-anchor="middle" transform="rotate(-90 15.9 121.7)">-log<tspan font-size="6.2" dy="2.2">10</tspan><tspan dy="-2.2">(Pvalue)</tspan></text>
<circle cx="34.8" cy="36.5" r="2.8" fill="#4dbd78"/>
<text x="39.6" y="39.6" font-family='"Liberation Serif", serif' font-size="9.3" fill="#000" textLength="72.4" lengthAdjust="spacingAndGlyphs">Down regulated(349)</text>
<circle cx="126" cy="36.5" r="2.8" fill="#e8261d"/>
<text x="131" y="39.6" font-family='"Liberation Serif", serif' font-size="9.3" fill="#000" textLength="63" lengthAdjust="spacingAndGlyphs">Up regulated(609)</text>
<text x="150.3" y="82.4" font-family='"Liberation Serif", serif' font-size="7.4" fill="#111" textLength="21.7" lengthAdjust="spacingAndGlyphs">VEGFA</text>
<text x="62" y="95.7" font-family='"Liberation Serif", serif' font-size="7.4" fill="#111" textLength="16.5" lengthAdjust="spacingAndGlyphs">SQLE</text>
<text x="42.3" y="126.1" font-family='"Liberation Serif", serif' font-size="7.4" fill="#111" textLength="28.2" lengthAdjust="spacingAndGlyphs">CYP51A1</text>
<text x="140.8" y="146.5" font-family='"Liberation Serif", serif' font-size="7.4" fill="#111" textLength="19.7" lengthAdjust="spacingAndGlyphs">SOAT1</text>
<text x="136.9" y="165.3" font-family='"Liberation Serif", serif' font-size="7.4" fill="#111" textLength="13.4" lengthAdjust="spacingAndGlyphs">LIPA</text>
<rect x="337.2" y="30.4" width="86.2" height="168" fill="#fff"/>
<line x1="337.2" y1="40.7" x2="423.4" y2="40.7" stroke="#cfcfcf" stroke-width="0.6" stroke-dasharray="1.2 0.5"/>
<line x1="337.2" y1="57.24" x2="423.4" y2="57.24" stroke="#cfcfcf" stroke-width="0.6" stroke-dasharray="1.2 0.5"/>
<line x1="337.2" y1="73.78" x2="423.4" y2="73.78" stroke="#cfcfcf" stroke-width="0.6" stroke-dasharray="1.2 0.5"/>
<line x1="337.2" y1="90.32" x2="423.4" y2="90.32" stroke="#cfcfcf" stroke-width="0.6" stroke-dasharray="1.2 0.5"/>
<line x1="337.2" y1="106.86" x2="423.4" y2="106.86" stroke="#cfcfcf" stroke-width="0.6" stroke-dasharray="1.2 0.5"/>
<line x1="337.2" y1="123.4" x2="423.4" y2="123.4" stroke="#cfcfcf" stroke-width="0.6" stroke-dasharray="1.2 0.5"/>
<line x1="337.2" y1="139.94" x2="423.4" y2="139.94" stroke="#cfcfcf" stroke-width="0.6" stroke-dasharray="1.2 0.5"/>
<line x1="337.2" y1="156.48" x2="423.4" y2="156.48" stroke="#cfcfcf" stroke-width="0.6" stroke-dasharray="1.2 0.5"/>
<line x1="337.2" y1="173.02" x2="423.4" y2="173.02" stroke="#cfcfcf" stroke-width="0.6" stroke-dasharray="1.2 0.5"/>
<line x1="337.2" y1="189.56" x2="423.4" y2="189.56" stroke="#cfcfcf" stroke-width="0.6" stroke-dasharray="1.2 0.5"/>
<line x1="345.6" y1="30.4" x2="345.6" y2="198.4" stroke="#c8c8c8" stroke-width="0.6" stroke-dasharray="1.2 0.5"/>
<line x1="362.2" y1="30.4" x2="362.2" y2="198.4" stroke="#c8c8c8" stroke-width="0.6" stroke-dasharray="1.2 0.5"/>
<line x1="378.8" y1="30.4" x2="378.8" y2="198.4" stroke="#c8c8c8" stroke-width="0.6" stroke-dasharray="1.2 0.5"/>
<line x1="395.4" y1="30.4" x2="395.4" y2="198.4" stroke="#c8c8c8" stroke-width="0.6" stroke-dasharray="1.2 0.5"/>
<line x1="412" y1="30.4" x2="412" y2="198.4" stroke="#c8c8c8" stroke-width="0.6" stroke-dasharray="1.2 0.5"/>
<circle cx="417.8" cy="40.7" r="3.9" fill="#e8242a"/>
<circle cx="390.4" cy="57.24" r="2.6" fill="#e8242e"/>
<circle cx="387.5" cy="73.78" r="2.3" fill="#e8242e"/>
<circle cx="358" cy="90.32" r="4" fill="#d8296e"/>
<circle cx="355.6" cy="106.86" r="2.8" fill="#d8296f"/>
<circle cx="351.1" cy="123.4" r="2.6" fill="#cc2f98"/>
<circle cx="350.5" cy="139.94" r="1" fill="#d02c90"/>
<circle cx="344.6" cy="156.48" r="3.3" fill="#7b3aa8"/>
<circle cx="343.4" cy="173.02" r="2.4" fill="#5a3fae"/>
<circle cx="341.9" cy="189.56" r="2" fill="#3553b4"/>
<rect x="337.2" y="30.4" width="86.2" height="168" fill="none" stroke="#222" stroke-width="0.8"/>
<line x1="335" y1="40.7" x2="337.2" y2="40.7" stroke="#222" stroke-width="0.6"/>
<text x="333.8" y="42.5" font-family='"Liberation Sans", sans-serif' font-size="5.4" fill="#000" text-anchor="end">MAPK signaling pathway</text>
<line x1="335" y1="57.24" x2="337.2" y2="57.24" stroke="#222" stroke-width="0.6"/>
<text x="333.8" y="59.04" font-family='"Liberation Sans", sans-serif' font-size="5.4" fill="#000" text-anchor="end">AGE−RAGE signaling pathway in diabetic complications</text>
<line x1="335" y1="73.78" x2="337.2" y2="73.78" stroke="#222" stroke-width="0.6"/>
<text x="333.8" y="75.58" font-family='"Liberation Sans", sans-serif' font-size="5.4" fill="#000" text-anchor="end">Biosynthesis of amino acids</text>
<line x1="335" y1="90.32" x2="337.2" y2="90.32" stroke="#222" stroke-width="0.6"/>
<text x="333.8" y="92.12" font-family='"Liberation Sans", sans-serif' font-size="5.4" fill="#000" text-anchor="end">PI3K−Akt signaling pathway</text>
<line x1="335" y1="106.86" x2="337.2" y2="106.86" stroke="#222" stroke-width="0.6"/>
<text x="333.8" y="108.66" font-family='"Liberation Sans", sans-serif' font-size="5.4" fill="#000" text-anchor="end">Growth hormone synthesis, secretion and action</text>
<line x1="335" y1="123.4" x2="337.2" y2="123.4" stroke="#222" stroke-width="0.6"/>
<text x="333.8" y="125.2" font-family='"Liberation Sans", sans-serif' font-size="5.4" fill="#000" text-anchor="end">Protein digestion and absorption</text>
<line x1="335" y1="139.94" x2="337.2" y2="139.94" stroke="#222" stroke-width="0.6"/>
<text x="333.8" y="141.74" font-family='"Liberation Sans", sans-serif' font-size="5.4" fill="#000" text-anchor="end">Glycine, serine and threonine metabolism</text>
<line x1="335" y1="156.48" x2="337.2" y2="156.48" stroke="#222" stroke-width="0.6"/>
<text x="333.8" y="158.28" font-family='"Liberation Sans", sans-serif' font-size="5.4" fill="#000" text-anchor="end">Axon guidance</text>
<line x1="335" y1="173.02" x2="337.2" y2="173.02" stroke="#222" stroke-width="0.6"/>
<text x="333.8" y="174.82" font-family='"Liberation Sans", sans-serif' font-size="5.4" fill="#000" text-anchor="end">Aldosterone synthesis and secretion</text>
<line x1="335" y1="189.56" x2="337.2" y2="189.56" stroke="#222" stroke-width="0.6"/>
<text x="333.8" y="191.36" font-family='"Liberation Sans", sans-serif' font-size="5.4" fill="#000" text-anchor="end">Prolactin signaling pathway</text>
<line x1="345.6" y1="198.4" x2="345.6" y2="200.4" stroke="#222" stroke-width="0.6"/>
<text x="345.6" y="205.7" font-family='"Liberation Sans", sans-serif' font-size="5.4" fill="#333" text-anchor="middle">3.0</text>
<line x1="362.2" y1="198.4" x2="362.2" y2="200.4" stroke="#222" stroke-width="0.6"/>
<text x="362.2" y="205.7" font-family='"Liberation Sans", sans-serif' font-size="5.4" fill="#333" text-anchor="middle">3.5</text>
<line x1="378.8" y1="198.4" x2="378.8" y2="200.4" stroke="#222" stroke-width="0.6"/>
<text x="378.8" y="205.7" font-family='"Liberation Sans", sans-serif' font-size="5.4" fill="#333" text-anchor="middle">4.0</text>
<line x1="395.4" y1="198.4" x2="395.4" y2="200.4" stroke="#222" stroke-width="0.6"/>
<text x="395.4" y="205.7" font-family='"Liberation Sans", sans-serif' font-size="5.4" fill="#333" text-anchor="middle">4.5</text>
<line x1="412" y1="198.4" x2="412" y2="200.4" stroke="#222" stroke-width="0.6"/>
<text x="412" y="205.7" font-family='"Liberation Sans", sans-serif' font-size="5.4" fill="#333" text-anchor="middle">5.0</text>
<rect x="273" y="32.4" width="62.2" height="16.5" fill="none" stroke="#e8202a" stroke-width="1"/>
<rect x="263.6" y="79.6" width="68.1" height="16.7" fill="none" stroke="#e8202a" stroke-width="1"/>
<text x="380.2" y="26.3" font-family='"Liberation Sans", sans-serif' font-size="7.6" fill="#1a1a1a" text-anchor="middle" textLength="60.4" lengthAdjust="spacingAndGlyphs">Pathway Analysis</text>
<text x="380.2" y="214" font-family='"Liberation Sans", sans-serif' font-size="6.8" fill="#1a1a1a" text-anchor="middle">EnrichmentScore (−log<tspan font-size="4.6" dy="1.3">10</tspan><tspan dy="-1.3">(pvalue))</tspan></text>
<defs><linearGradient id="gB" x1="0" y1="0" x2="0" y2="1"><stop offset="0" stop-color="#4a5cc0"/><stop offset="0.5" stop-color="#c03aa8"/><stop offset="1" stop-color="#e8303a"/></linearGradient></defs>
<rect x="433" y="120.2" width="0.7" height="50" fill="url(#gB)" opacity="0.55"/>
<rect x="530" y="28.2" width="111.3" height="169" fill="#fff"/>
<line x1="530" y1="37.8" x2="641.3" y2="37.8" stroke="#cfcfcf" stroke-width="0.6" stroke-dasharray="1.2 0.5"/>
<line x1="530" y1="54.43" x2="641.3" y2="54.43" stroke="#cfcfcf" stroke-width="0.6" stroke-dasharray="1.2 0.5"/>
<line x1="530" y1="71.07" x2="641.3" y2="71.07" stroke="#cfcfcf" stroke-width="0.6" stroke-dasharray="1.2 0.5"/>
<line x1="530" y1="87.7" x2="641.3" y2="87.7" stroke="#cfcfcf" stroke-width="0.6" stroke-dasharray="1.2 0.5"/>
<line x1="530" y1="104.33" x2="641.3" y2="104.33" stroke="#cfcfcf" stroke-width="0.6" stroke-dasharray="1.2 0.5"/>
<line x1="530" y1="120.96" x2="641.3" y2="120.96" stroke="#cfcfcf" stroke-width="0.6" stroke-dasharray="1.2 0.5"/>
<line x1="530" y1="137.6" x2="641.3" y2="137.6" stroke="#cfcfcf" stroke-width="0.6" stroke-dasharray="1.2 0.5"/>
<line x1="530" y1="154.23" x2="641.3" y2="154.23" stroke="#cfcfcf" stroke-width="0.6" stroke-dasharray="1.2 0.5"/>
<line x1="530" y1="170.86" x2="641.3" y2="170.86" stroke="#cfcfcf" stroke-width="0.6" stroke-dasharray="1.2 0.5"/>
<line x1="530" y1="187.5" x2="641.3" y2="187.5" stroke="#cfcfcf" stroke-width="0.6" stroke-dasharray="1.2 0.5"/>
<line x1="546.4" y1="28.2" x2="546.4" y2="197.2" stroke="#c8c8c8" stroke-width="0.6" stroke-dasharray="1.2 0.5"/>
<line x1="575.48" y1="28.2" x2="575.48" y2="197.2" stroke="#c8c8c8" stroke-width="0.6" stroke-dasharray="1.2 0.5"/>
<line x1="604.55" y1="28.2" x2="604.55" y2="197.2" stroke="#c8c8c8" stroke-width="0.6" stroke-dasharray="1.2 0.5"/>
<line x1="633.62" y1="28.2" x2="633.62" y2="197.2" stroke="#c8c8c8" stroke-width="0.6" stroke-dasharray="1.2 0.5"/>
<circle cx="635.3" cy="37.8" r="2.8" fill="#e8242a"/>
<circle cx="560.6" cy="54.43" r="2" fill="#e8242e"/>
<circle cx="552.7" cy="71.07" r="2.8" fill="#e82433"/>
<circle cx="546.2" cy="87.7" r="3.5" fill="#e8243a"/>
<circle cx="540.2" cy="104.33" r="1.1" fill="#dd2a70"/>
<circle cx="538.75" cy="120.96" r="4.2" fill="#d42a96"/>
<circle cx="536.25" cy="137.6" r="2" fill="#8a38a8"/>
<circle cx="536" cy="154.23" r="3.3" fill="#7d3aa8"/>
<circle cx="535.6" cy="170.86" r="2.8" fill="#6a3cae"/>
<circle cx="534.6" cy="187.5" r="2.6" fill="#3553b4"/>
<rect x="530" y="28.2" width="111.3" height="169" fill="none" stroke="#222" stroke-width="0.8"/>
<line x1="527.8" y1="37.8" x2="530" y2="37.8" stroke="#222" stroke-width="0.6"/>
<text x="526.6" y="39.6" font-family='"Liberation Sans", sans-serif' font-size="5.3" fill="#000" text-anchor="end">Steroid biosynthesis</text>
<line x1="527.8" y1="54.43" x2="530" y2="54.43" stroke="#222" stroke-width="0.6"/>
<text x="526.6" y="56.23" font-family='"Liberation Sans", sans-serif' font-size="5.3" fill="#000" text-anchor="end">Terpenoid backbone biosynthesis</text>
<line x1="527.8" y1="71.07" x2="530" y2="71.07" stroke="#222" stroke-width="0.6"/>
<text x="526.6" y="72.87" font-family='"Liberation Sans", sans-serif' font-size="5.3" fill="#000" text-anchor="end">PPAR signaling pathway</text>
<line x1="527.8" y1="87.7" x2="530" y2="87.7" stroke="#222" stroke-width="0.6"/>
<text x="526.6" y="89.5" font-family='"Liberation Sans", sans-serif' font-size="5.3" fill="#000" text-anchor="end" textLength="84.6" lengthAdjust="spacingAndGlyphs">Pathogenic Escherichia coli infection</text>
<line x1="527.8" y1="104.33" x2="530" y2="104.33" stroke="#222" stroke-width="0.6"/>
<text x="526.6" y="106.13" font-family='"Liberation Sans", sans-serif' font-size="5.3" fill="#000" text-anchor="end">Phenylalanine metabolism</text>
<line x1="527.8" y1="120.96" x2="530" y2="120.96" stroke="#222" stroke-width="0.6"/>
<text x="526.6" y="122.76" font-family='"Liberation Sans", sans-serif' font-size="5.3" fill="#000" text-anchor="end" textLength="90.7" lengthAdjust="spacingAndGlyphs">Neuroactive ligand−receptor interaction</text>
<line x1="527.8" y1="137.6" x2="530" y2="137.6" stroke="#222" stroke-width="0.6"/>
<text x="526.6" y="139.4" font-family='"Liberation Sans", sans-serif' font-size="5.3" fill="#000" text-anchor="end">Ovarian steroidogenesis</text>
<line x1="527.8" y1="154.23" x2="530" y2="154.23" stroke="#222" stroke-width="0.6"/>
<text x="526.6" y="156.03" font-family='"Liberation Sans", sans-serif' font-size="5.3" fill="#000" text-anchor="end">Transcriptional misregulation in cancer</text>
<line x1="527.8" y1="170.86" x2="530" y2="170.86" stroke="#222" stroke-width="0.6"/>
<text x="526.6" y="172.66" font-family='"Liberation Sans", sans-serif' font-size="5.3" fill="#000" text-anchor="end">TNF signaling pathway</text>
<line x1="527.8" y1="187.5" x2="530" y2="187.5" stroke="#222" stroke-width="0.6"/>
<text x="526.6" y="189.3" font-family='"Liberation Sans", sans-serif' font-size="5.3" fill="#000" text-anchor="end">Toll−like receptor signaling pathway</text>
<line x1="546.4" y1="197.2" x2="546.4" y2="199.2" stroke="#222" stroke-width="0.6"/>
<text x="546.4" y="204.5" font-family='"Liberation Sans", sans-serif' font-size="5.4" fill="#333" text-anchor="middle">2.5</text>
<line x1="575.48" y1="197.2" x2="575.48" y2="199.2" stroke="#222" stroke-width="0.6"/>
<text x="575.48" y="204.5" font-family='"Liberation Sans", sans-serif' font-size="5.4" fill="#333" text-anchor="middle">5.0</text>
<line x1="604.55" y1="197.2" x2="604.55" y2="199.2" stroke="#222" stroke-width="0.6"/>
<text x="604.55" y="204.5" font-family='"Liberation Sans", sans-serif' font-size="5.4" fill="#333" text-anchor="middle">7.5</text>
<line x1="633.62" y1="197.2" x2="633.62" y2="199.2" stroke="#222" stroke-width="0.6"/>
<text x="633.62" y="204.5" font-family='"Liberation Sans", sans-serif' font-size="5.4" fill="#333" text-anchor="middle">10.0</text>
<rect x="475.2" y="28.2" width="54.8" height="15.8" fill="none" stroke="#e8202a" stroke-width="1"/>
<text x="585.6" y="23.6" font-family='"Liberation Sans", sans-serif' font-size="7.6" fill="#1a1a1a" text-anchor="middle" textLength="58.3" lengthAdjust="spacingAndGlyphs">Pathway Analysis</text>
<text x="584" y="212.5" font-family='"Liberation Sans", sans-serif' font-size="6.8" fill="#1a1a1a" text-anchor="middle">EnrichmentScore (−log<tspan font-size="4.6" dy="1.3">10</tspan><tspan dy="-1.3">(pvalue))</tspan></text>
<text x="651" y="63" font-family='"Liberation Sans", sans-serif' font-size="7.0" fill="#1a1a1a" textLength="17.2" lengthAdjust="spacingAndGlyphs">Count</text>
<rect x="651.1" y="66.2" width="9.8" height="30.3" fill="#f3f3f3"/>
<circle cx="655.8" cy="71.4" r="2.35" fill="#000"/>
<text x="664.4" y="73.5" font-family='"Liberation Sans", sans-serif' font-size="6.0" fill="#222">10</text>
<circle cx="655.8" cy="81.3" r="3.4" fill="#000"/>
<text x="664.4" y="83.4" font-family='"Liberation Sans", sans-serif' font-size="6.0" fill="#222">20</text>
<circle cx="655.8" cy="91.4" r="4.15" fill="#000"/>
<text x="664.4" y="93.5" font-family='"Liberation Sans", sans-serif' font-size="6.0" fill="#222">30</text>
<text x="650.8" y="114.5" font-family='"Liberation Sans", sans-serif' font-size="6.6" fill="#1a1a1a">pvalue</text>
<defs><linearGradient id="gE" x1="0" y1="0" x2="0" y2="1"><stop offset="0" stop-color="#3a54b0"/><stop offset="0.35" stop-color="#7a3aa8"/><stop offset="0.65" stop-color="#cc2a98"/><stop offset="1" stop-color="#ee2030"/></linearGradient></defs>
<rect x="650.8" y="117.5" width="10.4" height="50.9" fill="url(#gE)"/>
<line x1="650.8" y1="120" x2="652.5" y2="120" stroke="#fff" stroke-width="0.4"/>
<line x1="659.5" y1="120" x2="661.2" y2="120" stroke="#fff" stroke-width="0.4"/>
<text x="663.8" y="121.9" font-family='"Liberation Sans", sans-serif' font-size="5.2" fill="#333">0.03</text>
<line x1="650.8" y1="136.2" x2="652.5" y2="136.2" stroke="#fff" stroke-width="0.4"/>
<line x1="659.5" y1="136.2" x2="661.2" y2="136.2" stroke="#fff" stroke-width="0.4"/>
<text x="663.8" y="138.1" font-family='"Liberation Sans", sans-serif' font-size="5.2" fill="#333">0.02</text>
<line x1="650.8" y1="152.5" x2="652.5" y2="152.5" stroke="#fff" stroke-width="0.4"/>
<line x1="659.5" y1="152.5" x2="661.2" y2="152.5" stroke="#fff" stroke-width="0.4"/>
<text x="663.8" y="154.4" font-family='"Liberation Sans", sans-serif' font-size="5.2" fill="#333">0.01</text>
<text x="112.4" y="245.2" font-family='"Liberation Serif", serif' font-size="9.6" fill="#000" text-anchor="middle" textLength="131.2" lengthAdjust="spacingAndGlyphs">MAPK_SIGNALING_PATHWAY</text>
<line x1="47.65" y1="257" x2="47.65" y2="329" stroke="#ebebeb" stroke-width="0.5"/>
<line x1="72" y1="257" x2="72" y2="329" stroke="#ebebeb" stroke-width="0.5"/>
<line x1="96.35" y1="257" x2="96.35" y2="329" stroke="#ebebeb" stroke-width="0.5"/>
<line x1="120.7" y1="257" x2="120.7" y2="329" stroke="#ebebeb" stroke-width="0.5"/>
<line x1="145.05" y1="257" x2="145.05" y2="329" stroke="#ebebeb" stroke-width="0.5"/>
<line x1="169.4" y1="257" x2="169.4" y2="329" stroke="#ebebeb" stroke-width="0.5"/>
<line x1="193.75" y1="257" x2="193.75" y2="329" stroke="#ebebeb" stroke-width="0.5"/>
<line x1="218.1" y1="257" x2="218.1" y2="329" stroke="#ebebeb" stroke-width="0.5"/>
<line x1="22.7" y1="325.2" x2="219" y2="325.2" stroke="#f2f2f2" stroke-width="0.4"/>
<line x1="22.7" y1="309.8" x2="219" y2="309.8" stroke="#f2f2f2" stroke-width="0.4"/>
<line x1="22.7" y1="294.4" x2="219" y2="294.4" stroke="#f2f2f2" stroke-width="0.4"/>
<line x1="22.7" y1="279" x2="219" y2="279" stroke="#f2f2f2" stroke-width="0.4"/>
<line x1="22.7" y1="263.6" x2="219" y2="263.6" stroke="#f2f2f2" stroke-width="0.4"/>
<polyline points="23.46,325.19 23.85,322.31 24.23,318.85 24.62,316.15 25,314.62 25.38,310.77 25.77,305.96 26.15,303.08 26.54,300.19 26.92,296.35 27.5,293.46 28.08,291.15 28.85,287.69 29.42,285.77 30,282.88 30.77,280.77 31.54,280 32.31,280.38 32.88,279.04 33.46,277.12 34.23,274.62 34.81,272.69 35.38,271.92 35.96,272.31 36.54,273.08 37.12,271.92 37.69,271.15 38.46,271.92 39.23,271.54 40,271.15 40.77,271.35 41.54,270.77 42.31,270.96 43.27,270.38 44.04,269.62 44.81,268.85 45.58,267.69 46.15,266.15 46.92,265.77 47.69,266.35 48.46,265.77 49.23,265.38 50,265.77 50.77,265 51.54,263.85 52.31,262.69 53.08,261.15 53.85,259.81 219,325.3" fill="none" stroke="#e8452c" stroke-width="1.1" stroke-linejoin="round"/>
<line x1="22.7" y1="257" x2="22.7" y2="393.2" stroke="#333" stroke-width="0.6"/>
<line x1="21.4" y1="325.2" x2="22.7" y2="325.2" stroke="#333" stroke-width="0.4"/>
<text x="20.9" y="326.3" font-family='"Liberation Sans", sans-serif' font-size="3.2" fill="#555" text-anchor="end">0.0</text>
<line x1="21.4" y1="309.8" x2="22.7" y2="309.8" stroke="#333" stroke-width="0.4"/>
<text x="20.9" y="310.9" font-family='"Liberation Sans", sans-serif' font-size="3.2" fill="#555" text-anchor="end">0.2</text>
<line x1="21.4" y1="294.4" x2="22.7" y2="294.4" stroke="#333" stroke-width="0.4"/>
<text x="20.9" y="295.5" font-family='"Liberation Sans", sans-serif' font-size="3.2" fill="#555" text-anchor="end">0.4</text>
<line x1="21.4" y1="279" x2="22.7" y2="279" stroke="#333" stroke-width="0.4"/>
<text x="20.9" y="280.1" font-family='"Liberation Sans", sans-serif' font-size="3.2" fill="#555" text-anchor="end">0.6</text>
<line x1="21.4" y1="263.6" x2="22.7" y2="263.6" stroke="#333" stroke-width="0.4"/>
<text x="20.9" y="264.7" font-family='"Liberation Sans", sans-serif' font-size="3.2" fill="#555" text-anchor="end">0.8</text>
<text x="12.6" y="293" font-family='"Liberation Sans", sans-serif' font-size="4.8" fill="#222" text-anchor="middle" textLength="55" lengthAdjust="spacingAndGlyphs" transform="rotate(-90 12.6 293)">Running Enrichment Score</text>
<text x="179.6" y="270.3" font-family='"Liberation Serif", serif' font-size="8.6" fill="#111" textLength="32.2" lengthAdjust="spacingAndGlyphs">NES=1.61</text>
<text x="179.6" y="279" font-family='"Liberation Serif", serif' font-size="8.6" fill="#111" textLength="29" lengthAdjust="spacingAndGlyphs">p&lt;0.001</text>
<text x="179.6" y="287.9" font-family='"Liberation Serif", serif' font-size="8.6" fill="#111" textLength="32.8" lengthAdjust="spacingAndGlyphs">FDR=0.01</text>
<rect x="24.2" y="329.1" width="2.2" height="18" fill="#111"/>
<rect x="26.8" y="329.1" width="1.3" height="18" fill="#0a0a0a"/>
<rect x="28.6" y="329.1" width="2.2" height="18" fill="#555"/>
<rect x="33" y="329.1" width="2.6" height="18" fill="#8a8a8a"/>
<rect x="37.8" y="329.1" width="0.8" height="18" fill="#999"/>
<rect x="40" y="329.1" width="1.3" height="18" fill="#444"/>
<rect x="43" y="329.1" width="1.3" height="18" fill="#888"/>
<rect x="44.8" y="329.1" width="1.3" height="18" fill="#222"/>
<rect x="47.4" y="329.1" width="0.9" height="18" fill="#999"/>
<rect x="50" y="329.1" width="1.5" height="18" fill="#aaa"/>
<rect x="51.5" y="329.1" width="1.2" height="18" fill="#777"/>
<rect x="52.7" y="329.1" width="1.3" height="18" fill="#555"/>
<rect x="23" y="346.9" width="195.8" height="7.8" fill="#ad272e"/>
<rect x="187.8" y="346.9" width="2.4" height="7.8" fill="#dc3c38"/>
<rect x="190.2" y="346.9" width="5.9" height="7.8" fill="#e7735f"/>
<rect x="196.1" y="346.9" width="4.7" height="7.8" fill="#efaa95"/>
<rect x="200.8" y="346.9" width="6.2" height="7.8" fill="#f6e4da"/>
<rect x="207" y="346.9" width="5" height="7.8" fill="#edf1f6"/>
<rect x="212" y="346.9" width="2" height="7.8" fill="#acd0e4"/>
<rect x="214" y="346.9" width="2.5" height="7.8" fill="#5f94c9"/>
<rect x="216.5" y="346.9" width="2.3" height="7.8" fill="#2c5ea9"/>
<rect x="24.2" y="346.9" width="2.2" height="7.8" fill="#000" opacity="0.12"/>
<rect x="26.8" y="346.9" width="1.3" height="7.8" fill="#000" opacity="0.12"/>
<rect x="28.6" y="346.9" width="2.2" height="7.8" fill="#000" opacity="0.12"/>
<rect x="33" y="346.9" width="2.6" height="7.8" fill="#000" opacity="0.12"/>
<rect x="37.8" y="346.9" width="0.8" height="7.8" fill="#000" opacity="0.12"/>
<rect x="40" y="346.9" width="1.3" height="7.8" fill="#000" opacity="0.12"/>
<rect x="43" y="346.9" width="1.3" height="7.8" fill="#000" opacity="0.12"/>
<rect x="44.8" y="346.9" width="1.3" height="7.8" fill="#000" opacity="0.12"/>
<rect x="47.4" y="346.9" width="0.9" height="7.8" fill="#000" opacity="0.12"/>
<rect x="50" y="346.9" width="1.5" height="7.8" fill="#000" opacity="0.12"/>
<rect x="51.5" y="346.9" width="1.2" height="7.8" fill="#000" opacity="0.12"/>
<rect x="52.7" y="346.9" width="1.3" height="7.8" fill="#000" opacity="0.12"/>
<line x1="47.65" y1="356" x2="47.65" y2="393.2" stroke="#ebebeb" stroke-width="0.5"/>
<line x1="72" y1="356" x2="72" y2="393.2" stroke="#ebebeb" stroke-width="0.5"/>
<line x1="96.35" y1="356" x2="96.35" y2="393.2" stroke="#ebebeb" stroke-width="0.5"/>
<line x1="120.7" y1="356" x2="120.7" y2="393.2" stroke="#ebebeb" stroke-width="0.5"/>
<line x1="145.05" y1="356" x2="145.05" y2="393.2" stroke="#ebebeb" stroke-width="0.5"/>
<line x1="169.4" y1="356" x2="169.4" y2="393.2" stroke="#ebebeb" stroke-width="0.5"/>
<line x1="193.75" y1="356" x2="193.75" y2="393.2" stroke="#ebebeb" stroke-width="0.5"/>
<line x1="218.1" y1="356" x2="218.1" y2="393.2" stroke="#ebebeb" stroke-width="0.5"/>
<polygon points="23.1,371.4 23.1,361.23 24.08,362.95 25.06,364.18 26.04,365.08 27.02,365.75 28,366.26 28.97,366.66 29.95,366.98 30.93,367.24 31.91,367.47 32.89,367.66 33.87,367.83 34.85,367.99 35.83,368.13 36.81,368.25 37.79,368.37 38.76,368.49 39.74,368.59 40.72,368.69 41.7,368.78 42.68,368.87 43.66,368.95 44.64,369.03 45.62,369.1 46.6,369.17 47.58,369.24 48.55,369.3 49.53,369.36 50.51,369.42 51.49,369.48 52.47,369.53 53.45,369.58 54.43,369.63 55.41,369.68 56.39,369.72 57.37,369.76 58.34,369.8 59.32,369.84 60.3,369.88 61.28,369.92 62.26,369.95 63.24,369.99 64.22,370.02 65.2,370.05 66.18,370.08 67.16,370.11 68.13,370.14 69.11,370.17 70.09,370.19 71.07,370.22 72.05,370.25 73.03,370.27 74.01,370.29 74.99,370.32 75.97,370.34 76.94,370.36 77.92,370.39 78.9,370.41 79.88,370.43 80.86,370.45 81.84,370.47 82.82,370.49 83.8,370.51 84.78,370.53 85.76,370.55 86.73,370.56 87.71,370.58 88.69,370.6 89.67,370.62 90.65,370.64 91.63,370.65 92.61,370.67 93.59,370.69 94.57,370.7 95.55,370.72 96.53,370.73 97.5,370.75 98.48,370.77 99.46,370.78 100.44,370.8 101.42,370.81 102.4,370.83 103.38,370.84 104.36,370.86 105.34,370.87 106.31,370.89 107.29,370.9 108.27,370.92 109.25,370.93 110.23,370.95 111.21,370.96 112.19,370.97 113.17,370.99 114.15,371 115.13,371.02 116.1,371.03 117.08,371.05 118.06,371.06 119.04,371.07 120.02,371.09 121,371.1 121.98,371.12 122.96,371.13 123.94,371.14 124.92,371.16 125.9,371.17 126.87,371.19 127.85,371.2 128.83,371.21 129.81,371.23 130.79,371.24 131.77,371.26 132.75,371.27 133.73,371.29 134.71,371.3 135.69,371.32 136.66,371.33 137.64,371.35 138.62,371.36 139.6,371.38 140.58,371.39 141.56,371.41 142.54,371.42 143.52,371.44 144.5,371.45 145.47,371.47 146.45,371.48 147.43,371.5 148.41,371.52 149.39,371.53 150.37,371.55 151.35,371.57 152.33,371.58 153.31,371.6 154.29,371.62 155.26,371.64 156.24,371.65 157.22,371.67 158.2,371.69 159.18,371.71 160.16,371.73 161.14,371.74 162.12,371.76 163.1,371.78 164.08,371.8 165.06,371.82 166.03,371.84 167.01,371.86 167.99,371.88 168.97,371.91 169.95,371.93 170.93,371.95 171.91,371.97 172.89,371.99 173.87,372.02 174.84,372.04 175.82,372.06 176.8,372.09 177.78,372.11 178.76,372.14 179.74,372.16 180.72,372.19 181.7,372.21 182.68,372.24 183.66,372.27 184.64,372.3 185.61,372.33 186.59,372.36 187.57,372.39 188.55,372.42 189.53,372.45 190.51,372.48 191.49,372.52 192.47,372.55 193.45,372.59 194.42,372.63 195.4,372.67 196.38,372.71 197.36,372.76 198.34,372.81 199.32,372.86 200.3,372.91 201.28,372.97 202.26,373.04 203.24,373.12 204.22,373.2 205.19,373.29 206.17,373.39 207.15,373.51 208.13,373.65 209.11,373.8 210.09,373.99 211.07,374.2 212.05,374.45 213.03,374.74 214,375.09 214.98,375.51 215.96,376.04 216.94,376.85 217.92,379.14 218.9,391.16 218.9,371.4" fill="#bdbdbd"/>
<line x1="22.7" y1="371.4" x2="219" y2="371.4" stroke="#d0d0d0" stroke-width="0.3"/>
<line x1="22.7" y1="356" x2="22.7" y2="393.2" stroke="#333" stroke-width="0.6"/>
<line x1="22.7" y1="393.2" x2="219" y2="393.2" stroke="#333" stroke-width="0.6"/>
<line x1="21.4" y1="361.7" x2="22.7" y2="361.7" stroke="#333" stroke-width="0.4"/>
<text x="20.9" y="362.8" font-family='"Liberation Sans", sans-serif' font-size="3.2" fill="#555" text-anchor="end">5</text>
<line x1="21.4" y1="371.5" x2="22.7" y2="371.5" stroke="#333" stroke-width="0.4"/>
<text x="20.9" y="372.6" font-family='"Liberation Sans", sans-serif' font-size="3.2" fill="#555" text-anchor="end">0</text>
<line x1="21.4" y1="381.6" x2="22.7" y2="381.6" stroke="#333" stroke-width="0.4"/>
<text x="20.9" y="382.7" font-family='"Liberation Sans", sans-serif' font-size="3.2" fill="#555" text-anchor="end">-5</text>
<line x1="21.4" y1="391.8" x2="22.7" y2="391.8" stroke="#333" stroke-width="0.4"/>
<text x="20.9" y="392.9" font-family='"Liberation Sans", sans-serif' font-size="3.2" fill="#555" text-anchor="end">-10</text>
<text x="12.6" y="374" font-family='"Liberation Sans", sans-serif' font-size="4.8" fill="#222" text-anchor="middle" textLength="38" lengthAdjust="spacingAndGlyphs" transform="rotate(-90 12.6 374)">Ranked List Metric</text>
<line x1="71.3" y1="393.2" x2="71.3" y2="394.5" stroke="#333" stroke-width="0.4"/>
<text x="71.3" y="398.2" font-family='"Liberation Sans", sans-serif' font-size="3.8" fill="#444" text-anchor="middle">2500</text>
<line x1="119.6" y1="393.2" x2="119.6" y2="394.5" stroke="#333" stroke-width="0.4"/>
<text x="119.6" y="398.2" font-family='"Liberation Sans", sans-serif' font-size="3.8" fill="#444" text-anchor="middle">5000</text>
<line x1="167.6" y1="393.2" x2="167.6" y2="394.5" stroke="#333" stroke-width="0.4"/>
<text x="167.6" y="398.2" font-family='"Liberation Sans", sans-serif' font-size="3.8" fill="#444" text-anchor="middle">7500</text>
<line x1="216.4" y1="393.2" x2="216.4" y2="394.5" stroke="#333" stroke-width="0.4"/>
<text x="216.4" y="398.2" font-family='"Liberation Sans", sans-serif' font-size="3.8" fill="#444" text-anchor="middle">10000</text>
<text x="120.7" y="403.6" font-family='"Liberation Sans", sans-serif' font-size="5.6" fill="#1a1a1a" text-anchor="middle" textLength="51.2" lengthAdjust="spacingAndGlyphs">Rank in Ordered Dataset</text>
<rect x="264.5" y="358.5" width="4.6" height="14.5" fill="#000" stroke="#111" stroke-width="0.5"/>
<line x1="266.8" y1="358.5" x2="266.8" y2="358.21" stroke="#222" stroke-width="0.45"/>
<line x1="265.6" y1="358.21" x2="268" y2="358.21" stroke="#222" stroke-width="0.45"/>
<rect x="271.8" y="301.95" width="4.8" height="71.05" fill="#e8403f" stroke="#111" stroke-width="0.5"/>
<line x1="274.2" y1="301.95" x2="274.2" y2="300.5" stroke="#222" stroke-width="0.45"/>
<line x1="273" y1="300.5" x2="275.4" y2="300.5" stroke="#222" stroke-width="0.45"/>
<text x="274.2" y="297.7" font-family='"Liberation Sans", sans-serif' font-size="10" fill="#222" text-anchor="middle">***</text>
<line x1="270.5" y1="373" x2="270.5" y2="377.6" stroke="#000" stroke-width="1.5"/>
<text x="273.4" y="386.3" font-family='"Liberation Sans", sans-serif' font-size="9.0" fill="#000" text-anchor="end" font-weight="bold" transform="rotate(-45 273.4 386.3)">LSS</text>
<rect x="284.6" y="358.5" width="4.6" height="14.5" fill="#000" stroke="#111" stroke-width="0.5"/>
<line x1="286.9" y1="358.5" x2="286.9" y2="356.76" stroke="#222" stroke-width="0.45"/>
<line x1="285.7" y1="356.76" x2="288.1" y2="356.76" stroke="#222" stroke-width="0.45"/>
<rect x="291.9" y="317.18" width="4.8" height="55.82" fill="#e8403f" stroke="#111" stroke-width="0.5"/>
<line x1="294.3" y1="317.18" x2="294.3" y2="314.28" stroke="#222" stroke-width="0.45"/>
<line x1="293.1" y1="314.28" x2="295.5" y2="314.28" stroke="#222" stroke-width="0.45"/>
<text x="294.3" y="312.1" font-family='"Liberation Sans", sans-serif' font-size="10" fill="#222" text-anchor="middle">***</text>
<line x1="290.6" y1="373" x2="290.6" y2="377.6" stroke="#000" stroke-width="1.5"/>
<text x="293.5" y="386.3" font-family='"Liberation Sans", sans-serif' font-size="9.0" fill="#000" text-anchor="end" font-weight="bold" transform="rotate(-45 293.5 386.3)">TCF7L1</text>
<rect x="304.7" y="358.5" width="4.6" height="14.5" fill="#000" stroke="#111" stroke-width="0.5"/>
<line x1="307" y1="358.5" x2="307" y2="358.21" stroke="#222" stroke-width="0.45"/>
<line x1="305.8" y1="358.21" x2="308.2" y2="358.21" stroke="#222" stroke-width="0.45"/>
<rect x="312" y="324.43" width="4.8" height="48.57" fill="#e8403f" stroke="#111" stroke-width="0.5"/>
<line x1="314.4" y1="324.43" x2="314.4" y2="319.35" stroke="#222" stroke-width="0.45"/>
<line x1="313.2" y1="319.35" x2="315.6" y2="319.35" stroke="#222" stroke-width="0.45"/>
<text x="314.4" y="317.1" font-family='"Liberation Sans", sans-serif' font-size="10" fill="#222" text-anchor="middle">***</text>
<line x1="310.7" y1="373" x2="310.7" y2="377.6" stroke="#000" stroke-width="1.5"/>
<text x="313.6" y="386.3" font-family='"Liberation Sans", sans-serif' font-size="9.0" fill="#000" text-anchor="end" font-weight="bold" transform="rotate(-45 313.6 386.3)">IRS1</text>
<rect x="324.8" y="358.5" width="4.6" height="14.5" fill="#000" stroke="#111" stroke-width="0.5"/>
<line x1="327.1" y1="358.5" x2="327.1" y2="356.76" stroke="#222" stroke-width="0.45"/>
<line x1="325.9" y1="356.76" x2="328.3" y2="356.76" stroke="#222" stroke-width="0.45"/>
<rect x="332.1" y="326.6" width="4.8" height="46.4" fill="#e8403f" stroke="#111" stroke-width="0.5"/>
<line x1="334.5" y1="326.6" x2="334.5" y2="322.25" stroke="#222" stroke-width="0.45"/>
<line x1="333.3" y1="322.25" x2="335.7" y2="322.25" stroke="#222" stroke-width="0.45"/>
<text x="334.5" y="320.6" font-family='"Liberation Sans", sans-serif' font-size="10" fill="#222" text-anchor="middle">***</text>
<line x1="330.8" y1="373" x2="330.8" y2="377.6" stroke="#000" stroke-width="1.5"/>
<text x="333.7" y="386.3" font-family='"Liberation Sans", sans-serif' font-size="9.0" fill="#000" text-anchor="end" font-weight="bold" transform="rotate(-45 333.7 386.3)">DDIT3</text>
<rect x="344.9" y="358.5" width="4.6" height="14.5" fill="#000" stroke="#111" stroke-width="0.5"/>
<line x1="347.2" y1="358.5" x2="347.2" y2="357.63" stroke="#222" stroke-width="0.45"/>
<line x1="346" y1="357.63" x2="348.4" y2="357.63" stroke="#222" stroke-width="0.45"/>
<rect x="352.2" y="302.68" width="4.8" height="70.32" fill="#e8403f" stroke="#111" stroke-width="0.5"/>
<line x1="354.6" y1="302.68" x2="354.6" y2="301.95" stroke="#222" stroke-width="0.45"/>
<line x1="353.4" y1="301.95" x2="355.8" y2="301.95" stroke="#222" stroke-width="0.45"/>
<text x="354.6" y="298.6" font-family='"Liberation Sans", sans-serif' font-size="10" fill="#222" text-anchor="middle">***</text>
<line x1="350.9" y1="373" x2="350.9" y2="377.6" stroke="#000" stroke-width="1.5"/>
<text x="353.8" y="386.3" font-family='"Liberation Sans", sans-serif' font-size="9.0" fill="#000" text-anchor="end" font-weight="bold" transform="rotate(-45 353.8 386.3)">FOS</text>
<rect x="365" y="358.5" width="4.6" height="14.5" fill="#000" stroke="#111" stroke-width="0.5"/>
<line x1="367.3" y1="358.5" x2="367.3" y2="358.21" stroke="#222" stroke-width="0.45"/>
<line x1="366.1" y1="358.21" x2="368.5" y2="358.21" stroke="#222" stroke-width="0.45"/>
<rect x="372.3" y="280.93" width="4.8" height="92.07" fill="#e8403f" stroke="#111" stroke-width="0.5"/>
<line x1="374.7" y1="280.93" x2="374.7" y2="273.68" stroke="#222" stroke-width="0.45"/>
<line x1="373.5" y1="273.68" x2="375.9" y2="273.68" stroke="#222" stroke-width="0.45"/>
<text x="374.7" y="275.6" font-family='"Liberation Sans", sans-serif' font-size="10" fill="#222" text-anchor="middle">***</text>
<line x1="371" y1="373" x2="371" y2="377.6" stroke="#000" stroke-width="1.5"/>
<text x="373.9" y="386.3" font-family='"Liberation Sans", sans-serif' font-size="9.0" fill="#000" text-anchor="end" font-weight="bold" transform="rotate(-45 373.9 386.3)">JUN</text>
<rect x="385.1" y="358.5" width="4.6" height="14.5" fill="#000" stroke="#111" stroke-width="0.5"/>
<line x1="387.4" y1="358.5" x2="387.4" y2="357.63" stroke="#222" stroke-width="0.45"/>
<line x1="386.2" y1="357.63" x2="388.6" y2="357.63" stroke="#222" stroke-width="0.45"/>
<rect x="392.4" y="312.82" width="4.8" height="60.18" fill="#e8403f" stroke="#111" stroke-width="0.5"/>
<line x1="394.8" y1="312.82" x2="394.8" y2="304.85" stroke="#222" stroke-width="0.45"/>
<line x1="393.6" y1="304.85" x2="396" y2="304.85" stroke="#222" stroke-width="0.45"/>
<text x="394.8" y="302.1" font-family='"Liberation Sans", sans-serif' font-size="10" fill="#222" text-anchor="middle">***</text>
<line x1="391.1" y1="373" x2="391.1" y2="377.6" stroke="#000" stroke-width="1.5"/>
<text x="394" y="386.3" font-family='"Liberation Sans", sans-serif' font-size="9.0" fill="#000" text-anchor="end" font-weight="bold" transform="rotate(-45 394 386.3)">VEGF</text>
<rect x="405.2" y="358.5" width="4.6" height="14.5" fill="#000" stroke="#111" stroke-width="0.5"/>
<line x1="407.5" y1="358.5" x2="407.5" y2="358.21" stroke="#222" stroke-width="0.45"/>
<line x1="406.3" y1="358.21" x2="408.7" y2="358.21" stroke="#222" stroke-width="0.45"/>
<rect x="412.5" y="330.23" width="4.8" height="42.77" fill="#e8403f" stroke="#111" stroke-width="0.5"/>
<line x1="414.9" y1="330.23" x2="414.9" y2="324.43" stroke="#222" stroke-width="0.45"/>
<line x1="413.7" y1="324.43" x2="416.1" y2="324.43" stroke="#222" stroke-width="0.45"/>
<text x="414.9" y="322.6" font-family='"Liberation Sans", sans-serif' font-size="10" fill="#222" text-anchor="middle">***</text>
<line x1="411.2" y1="373" x2="411.2" y2="377.6" stroke="#000" stroke-width="1.5"/>
<text x="414.1" y="386.3" font-family='"Liberation Sans", sans-serif' font-size="9.0" fill="#000" text-anchor="end" font-weight="bold" transform="rotate(-45 414.1 386.3)">STAT5B</text>
<rect x="425.3" y="358.5" width="4.6" height="14.5" fill="#000" stroke="#111" stroke-width="0.5"/>
<line x1="427.6" y1="358.5" x2="427.6" y2="357.92" stroke="#222" stroke-width="0.45"/>
<line x1="426.4" y1="357.92" x2="428.8" y2="357.92" stroke="#222" stroke-width="0.45"/>
<rect x="432.6" y="328.77" width="4.8" height="44.23" fill="#e8403f" stroke="#111" stroke-width="0.5"/>
<line x1="435" y1="328.77" x2="435" y2="327.03" stroke="#222" stroke-width="0.45"/>
<line x1="433.8" y1="327.03" x2="436.2" y2="327.03" stroke="#222" stroke-width="0.45"/>
<text x="435" y="326.2" font-family='"Liberation Sans", sans-serif' font-size="10" fill="#222" text-anchor="middle">***</text>
<line x1="431.3" y1="373" x2="431.3" y2="377.6" stroke="#000" stroke-width="1.5"/>
<text x="434.2" y="386.3" font-family='"Liberation Sans", sans-serif' font-size="9.0" fill="#000" text-anchor="end" font-weight="bold" transform="rotate(-45 434.2 386.3)">PLCB4</text>
<rect x="445.4" y="358.5" width="4.6" height="14.5" fill="#000" stroke="#111" stroke-width="0.5"/>
<line x1="447.7" y1="358.5" x2="447.7" y2="355.6" stroke="#222" stroke-width="0.45"/>
<line x1="446.5" y1="355.6" x2="448.9" y2="355.6" stroke="#222" stroke-width="0.45"/>
<rect x="452.7" y="336.02" width="4.8" height="36.98" fill="#e8403f" stroke="#111" stroke-width="0.5"/>
<line x1="455.1" y1="336.02" x2="455.1" y2="332.4" stroke="#222" stroke-width="0.45"/>
<line x1="453.9" y1="332.4" x2="456.3" y2="332.4" stroke="#222" stroke-width="0.45"/>
<text x="455.1" y="332.3" font-family='"Liberation Sans", sans-serif' font-size="10" fill="#222" text-anchor="middle">***</text>
<line x1="451.4" y1="373" x2="451.4" y2="377.6" stroke="#000" stroke-width="1.5"/>
<text x="454.3" y="386.3" font-family='"Liberation Sans", sans-serif' font-size="9.0" fill="#000" text-anchor="end" font-weight="bold" transform="rotate(-45 454.3 386.3)">FGFR3</text>
<line x1="262" y1="256.5" x2="262" y2="373.7" stroke="#000" stroke-width="1.5"/>
<line x1="262" y1="373" x2="461.2" y2="373" stroke="#000" stroke-width="1.5"/>
<line x1="256.2" y1="373" x2="262" y2="373" stroke="#000" stroke-width="1.4"/>
<text x="255.6" y="376.5" font-family='"Liberation Sans", sans-serif' font-size="9.7" fill="#000" text-anchor="end" font-weight="bold">0</text>
<line x1="256.2" y1="344" x2="262" y2="344" stroke="#000" stroke-width="1.4"/>
<text x="255.6" y="347.5" font-family='"Liberation Sans", sans-serif' font-size="9.7" fill="#000" text-anchor="end" font-weight="bold">2</text>
<line x1="256.2" y1="315" x2="262" y2="315" stroke="#000" stroke-width="1.4"/>
<text x="255.6" y="318.5" font-family='"Liberation Sans", sans-serif' font-size="9.7" fill="#000" text-anchor="end" font-weight="bold">4</text>
<line x1="256.2" y1="286" x2="262" y2="286" stroke="#000" stroke-width="1.4"/>
<text x="255.6" y="289.5" font-family='"Liberation Sans", sans-serif' font-size="9.7" fill="#000" text-anchor="end" font-weight="bold">6</text>
<line x1="256.2" y1="257" x2="262" y2="257" stroke="#000" stroke-width="1.4"/>
<text x="255.6" y="260.5" font-family='"Liberation Sans", sans-serif' font-size="9.7" fill="#000" text-anchor="end" font-weight="bold">8</text>
<text x="245.4" y="314.4" font-family='"Liberation Sans", sans-serif' font-size="11.5" fill="#000" text-anchor="middle" font-weight="bold" textLength="128.5" lengthAdjust="spacingAndGlyphs" transform="rotate(-90 245.4 314.4)">Relative of mRNA level</text>
<rect x="272.6" y="255.4" width="11.2" height="5.3" fill="#000"/>
<rect x="272.6" y="267.9" width="11.2" height="5.8" fill="#e8403f" stroke="#111" stroke-width="0.5"/>
<text x="290.9" y="261.3" font-family='"Liberation Sans", sans-serif' font-size="9.6" fill="#000">Vector</text>
<text x="290.9" y="274" font-family='"Liberation Sans", sans-serif' font-size="9.6" fill="#000">LSS</text>
<rect x="509.2" y="346.4" width="4" height="29.5" fill="#000" stroke="#111" stroke-width="0.5"/>
<line x1="511.2" y1="346.4" x2="511.2" y2="346.1" stroke="#222" stroke-width="0.45"/>
<line x1="510" y1="346.1" x2="512.4" y2="346.1" stroke="#222" stroke-width="0.45"/>
<rect x="516.1" y="291.23" width="4.1" height="84.67" fill="#3a5bb5" stroke="#111" stroke-width="0.5"/>
<line x1="518.15" y1="291.23" x2="518.15" y2="290.35" stroke="#222" stroke-width="0.45"/>
<line x1="516.95" y1="290.35" x2="519.35" y2="290.35" stroke="#222" stroke-width="0.45"/>
<line x1="511" y1="287.1" x2="519.2" y2="287.1" stroke="#000" stroke-width="0.8"/>
<text x="515.1" y="287.9" font-family='"Liberation Sans", sans-serif' font-size="8.6" fill="#222" text-anchor="middle">***</text>
<line x1="514.6" y1="375.9" x2="514.6" y2="380.2" stroke="#000" stroke-width="1.5"/>
<text x="517.5" y="389.9" font-family='"Liberation Sans", sans-serif' font-size="9.1" fill="#000" text-anchor="end" font-weight="bold" transform="rotate(-45 517.5 389.9)">LSS</text>
<rect x="527.16" y="346.4" width="4" height="29.5" fill="#000" stroke="#111" stroke-width="0.5"/>
<line x1="529.16" y1="346.4" x2="529.16" y2="345.81" stroke="#222" stroke-width="0.45"/>
<line x1="527.96" y1="345.81" x2="530.36" y2="345.81" stroke="#222" stroke-width="0.45"/>
<rect x="534.06" y="311.29" width="4.1" height="64.61" fill="#3a5bb5" stroke="#111" stroke-width="0.5"/>
<line x1="536.11" y1="311.29" x2="536.11" y2="310.7" stroke="#222" stroke-width="0.45"/>
<line x1="534.91" y1="310.7" x2="537.31" y2="310.7" stroke="#222" stroke-width="0.45"/>
<line x1="528.96" y1="306.4" x2="537.16" y2="306.4" stroke="#000" stroke-width="0.8"/>
<text x="533.06" y="307.2" font-family='"Liberation Sans", sans-serif' font-size="8.6" fill="#222" text-anchor="middle">***</text>
<line x1="532.56" y1="375.9" x2="532.56" y2="380.2" stroke="#000" stroke-width="1.5"/>
<text x="535.46" y="389.9" font-family='"Liberation Sans", sans-serif' font-size="9.1" fill="#000" text-anchor="end" font-weight="bold" transform="rotate(-45 535.46 389.9)">LIPA</text>
<rect x="545.12" y="346.4" width="4" height="29.5" fill="#000" stroke="#111" stroke-width="0.5"/>
<line x1="547.12" y1="346.4" x2="547.12" y2="346.1" stroke="#222" stroke-width="0.45"/>
<line x1="545.92" y1="346.1" x2="548.32" y2="346.1" stroke="#222" stroke-width="0.45"/>
<rect x="552.02" y="369.11" width="4.1" height="6.79" fill="#3a5bb5" stroke="#111" stroke-width="0.5"/>
<line x1="554.07" y1="369.11" x2="554.07" y2="368.82" stroke="#222" stroke-width="0.45"/>
<line x1="552.87" y1="368.82" x2="555.27" y2="368.82" stroke="#222" stroke-width="0.45"/>
<line x1="546.92" y1="338.9" x2="555.12" y2="338.9" stroke="#000" stroke-width="0.8"/>
<text x="551.02" y="339.7" font-family='"Liberation Sans", sans-serif' font-size="8.6" fill="#222" text-anchor="middle">***</text>
<line x1="550.52" y1="375.9" x2="550.52" y2="380.2" stroke="#000" stroke-width="1.5"/>
<text x="553.42" y="389.9" font-family='"Liberation Sans", sans-serif' font-size="9.1" fill="#000" text-anchor="end" font-weight="bold" transform="rotate(-45 553.42 389.9)">CYP51A1</text>
<rect x="563.08" y="346.4" width="4" height="29.5" fill="#000" stroke="#111" stroke-width="0.5"/>
<line x1="565.08" y1="346.4" x2="565.08" y2="346.1" stroke="#222" stroke-width="0.45"/>
<line x1="563.88" y1="346.1" x2="566.28" y2="346.1" stroke="#222" stroke-width="0.45"/>
<rect x="569.98" y="370" width="4.1" height="5.9" fill="#3a5bb5" stroke="#111" stroke-width="0.5"/>
<line x1="572.03" y1="370" x2="572.03" y2="369.7" stroke="#222" stroke-width="0.45"/>
<line x1="570.83" y1="369.7" x2="573.23" y2="369.7" stroke="#222" stroke-width="0.45"/>
<line x1="564.88" y1="338.9" x2="573.08" y2="338.9" stroke="#000" stroke-width="0.8"/>
<text x="568.98" y="339.7" font-family='"Liberation Sans", sans-serif' font-size="8.6" fill="#222" text-anchor="middle">***</text>
<line x1="568.48" y1="375.9" x2="568.48" y2="380.2" stroke="#000" stroke-width="1.5"/>
<text x="571.38" y="389.9" font-family='"Liberation Sans", sans-serif' font-size="9.1" fill="#000" text-anchor="end" font-weight="bold" transform="rotate(-45 571.38 389.9)">DHCR7</text>
<rect x="581.04" y="346.4" width="4" height="29.5" fill="#000" stroke="#111" stroke-width="0.5"/>
<line x1="583.04" y1="346.4" x2="583.04" y2="345.81" stroke="#222" stroke-width="0.45"/>
<line x1="581.84" y1="345.81" x2="584.24" y2="345.81" stroke="#222" stroke-width="0.45"/>
<rect x="587.94" y="367.94" width="4.1" height="7.96" fill="#3a5bb5" stroke="#111" stroke-width="0.5"/>
<line x1="589.99" y1="367.94" x2="589.99" y2="367.64" stroke="#222" stroke-width="0.45"/>
<line x1="588.79" y1="367.64" x2="591.19" y2="367.64" stroke="#222" stroke-width="0.45"/>
<line x1="582.84" y1="338.9" x2="591.04" y2="338.9" stroke="#000" stroke-width="0.8"/>
<text x="586.94" y="339.7" font-family='"Liberation Sans", sans-serif' font-size="8.6" fill="#222" text-anchor="middle">***</text>
<line x1="586.44" y1="375.9" x2="586.44" y2="380.2" stroke="#000" stroke-width="1.5"/>
<text x="589.34" y="389.9" font-family='"Liberation Sans", sans-serif' font-size="9.1" fill="#000" text-anchor="end" font-weight="bold" transform="rotate(-45 589.34 389.9)">DHCR24</text>
<rect x="599" y="346.4" width="4" height="29.5" fill="#000" stroke="#111" stroke-width="0.5"/>
<line x1="601" y1="346.4" x2="601" y2="346.1" stroke="#222" stroke-width="0.45"/>
<line x1="599.8" y1="346.1" x2="602.2" y2="346.1" stroke="#222" stroke-width="0.45"/>
<rect x="605.9" y="370.88" width="4.1" height="5.01" fill="#3a5bb5" stroke="#111" stroke-width="0.5"/>
<line x1="607.95" y1="370.88" x2="607.95" y2="370.59" stroke="#222" stroke-width="0.45"/>
<line x1="606.75" y1="370.59" x2="609.15" y2="370.59" stroke="#222" stroke-width="0.45"/>
<line x1="600.8" y1="338.9" x2="609" y2="338.9" stroke="#000" stroke-width="0.8"/>
<text x="604.9" y="339.7" font-family='"Liberation Sans", sans-serif' font-size="8.6" fill="#222" text-anchor="middle">***</text>
<line x1="604.4" y1="375.9" x2="604.4" y2="380.2" stroke="#000" stroke-width="1.5"/>
<text x="607.3" y="389.9" font-family='"Liberation Sans", sans-serif' font-size="9.1" fill="#000" text-anchor="end" font-weight="bold" transform="rotate(-45 607.3 389.9)">FDFT1</text>
<rect x="616.96" y="346.4" width="4" height="29.5" fill="#000" stroke="#111" stroke-width="0.5"/>
<line x1="618.96" y1="346.4" x2="618.96" y2="345.22" stroke="#222" stroke-width="0.45"/>
<line x1="617.76" y1="345.22" x2="620.16" y2="345.22" stroke="#222" stroke-width="0.45"/>
<rect x="623.86" y="366.16" width="4.1" height="9.74" fill="#3a5bb5" stroke="#111" stroke-width="0.5"/>
<line x1="625.91" y1="366.16" x2="625.91" y2="365.87" stroke="#222" stroke-width="0.45"/>
<line x1="624.71" y1="365.87" x2="627.11" y2="365.87" stroke="#222" stroke-width="0.45"/>
<line x1="618.76" y1="338.9" x2="626.96" y2="338.9" stroke="#000" stroke-width="0.8"/>
<text x="622.86" y="339.7" font-family='"Liberation Sans", sans-serif' font-size="8.6" fill="#222" text-anchor="middle">***</text>
<line x1="622.36" y1="375.9" x2="622.36" y2="380.2" stroke="#000" stroke-width="1.5"/>
<text x="625.26" y="389.9" font-family='"Liberation Sans", sans-serif' font-size="9.1" fill="#000" text-anchor="end" font-weight="bold" transform="rotate(-45 625.26 389.9)">SC5D</text>
<rect x="634.92" y="346.4" width="4" height="29.5" fill="#000" stroke="#111" stroke-width="0.5"/>
<line x1="636.92" y1="346.4" x2="636.92" y2="346.1" stroke="#222" stroke-width="0.45"/>
<line x1="635.72" y1="346.1" x2="638.12" y2="346.1" stroke="#222" stroke-width="0.45"/>
<rect x="641.82" y="354.07" width="4.1" height="21.83" fill="#3a5bb5" stroke="#111" stroke-width="0.5"/>
<line x1="643.87" y1="354.07" x2="643.87" y2="353.77" stroke="#222" stroke-width="0.45"/>
<line x1="642.67" y1="353.77" x2="645.07" y2="353.77" stroke="#222" stroke-width="0.45"/>
<line x1="636.72" y1="338.9" x2="644.92" y2="338.9" stroke="#000" stroke-width="0.8"/>
<text x="640.82" y="339.7" font-family='"Liberation Sans", sans-serif' font-size="8.6" fill="#222" text-anchor="middle">***</text>
<line x1="640.32" y1="375.9" x2="640.32" y2="380.2" stroke="#000" stroke-width="1.5"/>
<text x="643.22" y="389.9" font-family='"Liberation Sans", sans-serif' font-size="9.1" fill="#000" text-anchor="end" font-weight="bold" transform="rotate(-45 643.22 389.9)">SOAT1</text>
<rect x="652.88" y="346.4" width="4" height="29.5" fill="#000" stroke="#111" stroke-width="0.5"/>
<line x1="654.88" y1="346.4" x2="654.88" y2="345.22" stroke="#222" stroke-width="0.45"/>
<line x1="653.68" y1="345.22" x2="656.08" y2="345.22" stroke="#222" stroke-width="0.45"/>
<rect x="659.78" y="371.47" width="4.1" height="4.43" fill="#3a5bb5" stroke="#111" stroke-width="0.5"/>
<line x1="661.83" y1="371.47" x2="661.83" y2="371.18" stroke="#222" stroke-width="0.45"/>
<line x1="660.63" y1="371.18" x2="663.03" y2="371.18" stroke="#222" stroke-width="0.45"/>
<line x1="654.68" y1="338.9" x2="662.88" y2="338.9" stroke="#000" stroke-width="0.8"/>
<text x="658.78" y="339.7" font-family='"Liberation Sans", sans-serif' font-size="8.6" fill="#222" text-anchor="middle">***</text>
<line x1="658.28" y1="375.9" x2="658.28" y2="380.2" stroke="#000" stroke-width="1.5"/>
<text x="661.18" y="389.9" font-family='"Liberation Sans", sans-serif' font-size="9.1" fill="#000" text-anchor="end" font-weight="bold" transform="rotate(-45 661.18 389.9)">SQLE</text>
<rect x="670.84" y="346.4" width="4" height="29.5" fill="#000" stroke="#111" stroke-width="0.5"/>
<line x1="672.84" y1="346.4" x2="672.84" y2="345.81" stroke="#222" stroke-width="0.45"/>
<line x1="671.64" y1="345.81" x2="674.04" y2="345.81" stroke="#222" stroke-width="0.45"/>
<rect x="677.74" y="356.87" width="4.1" height="19.03" fill="#3a5bb5" stroke="#111" stroke-width="0.5"/>
<line x1="679.79" y1="356.87" x2="679.79" y2="356.58" stroke="#222" stroke-width="0.45"/>
<line x1="678.59" y1="356.58" x2="680.99" y2="356.58" stroke="#222" stroke-width="0.45"/>
<line x1="672.64" y1="338.9" x2="680.84" y2="338.9" stroke="#000" stroke-width="0.8"/>
<text x="676.74" y="339.7" font-family='"Liberation Sans", sans-serif' font-size="8.6" fill="#222" text-anchor="middle">***</text>
<line x1="676.24" y1="375.9" x2="676.24" y2="380.2" stroke="#000" stroke-width="1.5"/>
<text x="679.14" y="389.9" font-family='"Liberation Sans", sans-serif' font-size="9.1" fill="#000" text-anchor="end" font-weight="bold" transform="rotate(-45 679.14 389.9)">TM7SF2</text>
<line x1="506.3" y1="257.3" x2="506.3" y2="376.6" stroke="#000" stroke-width="1.5"/>
<line x1="506.3" y1="375.9" x2="685" y2="375.9" stroke="#000" stroke-width="1.5"/>
<line x1="502.1" y1="375.9" x2="506.3" y2="375.9" stroke="#000" stroke-width="1.4"/>
<text x="501.1" y="379.4" font-family='"Liberation Sans", sans-serif' font-size="9.7" fill="#000" text-anchor="end" font-weight="bold">0</text>
<line x1="502.1" y1="346.4" x2="506.3" y2="346.4" stroke="#000" stroke-width="1.4"/>
<text x="501.1" y="349.9" font-family='"Liberation Sans", sans-serif' font-size="9.7" fill="#000" text-anchor="end" font-weight="bold">1</text>
<line x1="502.1" y1="316.9" x2="506.3" y2="316.9" stroke="#000" stroke-width="1.4"/>
<text x="501.1" y="320.4" font-family='"Liberation Sans", sans-serif' font-size="9.7" fill="#000" text-anchor="end" font-weight="bold">2</text>
<line x1="502.1" y1="287.4" x2="506.3" y2="287.4" stroke="#000" stroke-width="1.4"/>
<text x="501.1" y="290.9" font-family='"Liberation Sans", sans-serif' font-size="9.7" fill="#000" text-anchor="end" font-weight="bold">3</text>
<line x1="502.1" y1="257.9" x2="506.3" y2="257.9" stroke="#000" stroke-width="1.4"/>
<text x="501.1" y="261.4" font-family='"Liberation Sans", sans-serif' font-size="9.7" fill="#000" text-anchor="end" font-weight="bold">4</text>
<text x="488.3" y="315.9" font-family='"Liberation Sans", sans-serif' font-size="11.7" fill="#000" text-anchor="middle" font-weight="bold" textLength="139.5" lengthAdjust="spacingAndGlyphs" transform="rotate(-90 488.3 315.9)">Relative of mRNA level</text>
<rect x="512.3" y="256.3" width="12.7" height="6" fill="#000"/>
<rect x="512.3" y="268.5" width="11.5" height="6.1" fill="#3a5bb5" stroke="#111" stroke-width="0.5"/>
<text x="532" y="262.4" font-family='"Liberation Sans", sans-serif' font-size="9.6" fill="#000">Vector</text>
<text x="532" y="274.8" font-family='"Liberation Sans", sans-serif' font-size="9.6" fill="#000">LSS</text>
<rect x="38.2" y="450.9" width="63.6" height="19.6" fill="#a3a3a3"/>
<path d="M44.6 461.5C44.6 458.69 46.99 458.19 49.9 458.19L63.4 458.19C66.31 458.19 68.7 458.69 68.7 461.5C68.7 464.31 66.31 464.81 63.4 464.81L49.9 464.81C46.99 464.81 44.6 464.31 44.6 461.5Z" fill="#0b0b0b" filter="url(#b3)" opacity="0.45"/>
<path d="M44.6 461.5C44.6 458.69 46.99 458.19 49.9 458.19L63.4 458.19C66.31 458.19 68.7 458.69 68.7 461.5C68.7 464.31 66.31 464.81 63.4 464.81L49.9 464.81C46.99 464.81 44.6 464.31 44.6 461.5Z" fill="#0b0b0b" filter="url(#b1)"/>
<path d="M74.5 462C74.5 459.19 76.51 458.69 78.97 458.69L90.33 458.69C92.79 458.69 94.8 459.19 94.8 462C94.8 464.81 92.79 465.31 90.33 465.31L78.97 465.31C76.51 465.31 74.5 464.81 74.5 462Z" fill="#0b0b0b" filter="url(#b3)" opacity="0.45"/>
<path d="M74.5 462C74.5 459.19 76.51 458.69 78.97 458.69L90.33 458.69C92.79 458.69 94.8 459.19 94.8 462C94.8 464.81 92.79 465.31 90.33 465.31L78.97 465.31C76.51 465.31 74.5 464.81 74.5 462Z" fill="#0b0b0b" filter="url(#b1)"/>
<rect x="38.2" y="450.9" width="63.6" height="19.6" fill="none" stroke="#1a1a1a" stroke-width="0.9"/>
<rect x="38.2" y="474.2" width="63.6" height="17.1" fill="#8e8e8e"/>
<path d="M43.7 483.1C43.7 480.01 45.98 479.46 48.76 479.46L61.64 479.46C64.42 479.46 66.7 480.01 66.7 483.1C66.7 486.19 64.42 486.74 61.64 486.74L48.76 486.74C45.98 486.74 43.7 486.19 43.7 483.1Z" fill="#0b0b0b" filter="url(#b3)" opacity="0.45"/>
<path d="M43.7 483.1C43.7 480.01 45.98 479.46 48.76 479.46L61.64 479.46C64.42 479.46 66.7 480.01 66.7 483.1C66.7 486.19 64.42 486.74 61.64 486.74L48.76 486.74C45.98 486.74 43.7 486.19 43.7 483.1Z" fill="#0b0b0b" filter="url(#b1)"/>
<path d="M75.3 483.1C75.3 480.57 77.34 480.12 79.83 480.12L91.37 480.12C93.86 480.12 95.9 480.57 95.9 483.1C95.9 485.63 93.86 486.08 91.37 486.08L79.83 486.08C77.34 486.08 75.3 485.63 75.3 483.1Z" fill="#0b0b0b" filter="url(#b3)" opacity="0.45"/>
<path d="M75.3 483.1C75.3 480.57 77.34 480.12 79.83 480.12L91.37 480.12C93.86 480.12 95.9 480.57 95.9 483.1C95.9 485.63 93.86 486.08 91.37 486.08L79.83 486.08C77.34 486.08 75.3 485.63 75.3 483.1Z" fill="#0b0b0b" filter="url(#b1)"/>
<rect x="38.2" y="474.2" width="63.6" height="17.1" fill="none" stroke="#1a1a1a" stroke-width="0.9"/>
<rect x="38.2" y="494.3" width="63.6" height="19" fill="#d6d6d6"/>
<path d="M44.2 502.2C44.2 500.31 46.34 499.97 48.95 499.97L61.05 499.97C63.66 499.97 65.8 500.31 65.8 502.2C65.8 504.09 63.66 504.43 61.05 504.43L48.95 504.43C46.34 504.43 44.2 504.09 44.2 502.2Z" fill="#0b0b0b" filter="url(#b3)" opacity="0.45"/>
<path d="M44.2 502.2C44.2 500.31 46.34 499.97 48.95 499.97L61.05 499.97C63.66 499.97 65.8 500.31 65.8 502.2C65.8 504.09 63.66 504.43 61.05 504.43L48.95 504.43C46.34 504.43 44.2 504.09 44.2 502.2Z" fill="#0b0b0b" filter="url(#b1)"/>
<path d="M44.2 507.4C44.2 505.31 46.34 504.94 48.95 504.94L61.05 504.94C63.66 504.94 65.8 505.31 65.8 507.4C65.8 509.49 63.66 509.85 61.05 509.85L48.95 509.85C46.34 509.85 44.2 509.49 44.2 507.4Z" fill="#0b0b0b" filter="url(#b3)" opacity="0.45"/>
<path d="M44.2 507.4C44.2 505.31 46.34 504.94 48.95 504.94L61.05 504.94C63.66 504.94 65.8 505.31 65.8 507.4C65.8 509.49 63.66 509.85 61.05 509.85L48.95 509.85C46.34 509.85 44.2 509.49 44.2 507.4Z" fill="#0b0b0b" filter="url(#b1)"/>
<path d="M73.7 502.2C73.7 500.31 75.74 499.97 78.23 499.97L89.77 499.97C92.26 499.97 94.3 500.31 94.3 502.2C94.3 504.09 92.26 504.43 89.77 504.43L78.23 504.43C75.74 504.43 73.7 504.09 73.7 502.2Z" fill="#0b0b0b" filter="url(#b3)" opacity="0.45"/>
<path d="M73.7 502.2C73.7 500.31 75.74 499.97 78.23 499.97L89.77 499.97C92.26 499.97 94.3 500.31 94.3 502.2C94.3 504.09 92.26 504.43 89.77 504.43L78.23 504.43C75.74 504.43 73.7 504.09 73.7 502.2Z" fill="#0b0b0b" filter="url(#b1)"/>
<path d="M73.7 507.4C73.7 505.31 75.74 504.94 78.23 504.94L89.77 504.94C92.26 504.94 94.3 505.31 94.3 507.4C94.3 509.49 92.26 509.85 89.77 509.85L78.23 509.85C75.74 509.85 73.7 509.49 73.7 507.4Z" fill="#0b0b0b" filter="url(#b3)" opacity="0.45"/>
<path d="M73.7 507.4C73.7 505.31 75.74 504.94 78.23 504.94L89.77 504.94C92.26 504.94 94.3 505.31 94.3 507.4C94.3 509.49 92.26 509.85 89.77 509.85L78.23 509.85C75.74 509.85 73.7 509.49 73.7 507.4Z" fill="#0b0b0b" filter="url(#b1)"/>
<rect x="38.2" y="494.3" width="63.6" height="19" fill="none" stroke="#1a1a1a" stroke-width="0.9"/>
<rect x="38.2" y="517.2" width="63.6" height="19.8" fill="#d8d8d8"/>
<path d="M46.2 525.8C46.2 523.91 48.15 523.57 50.53 523.57L61.57 523.57C63.95 523.57 65.9 523.91 65.9 525.8C65.9 527.69 63.95 528.02 61.57 528.02L50.53 528.02C48.15 528.02 46.2 527.69 46.2 525.8Z" fill="#0b0b0b" filter="url(#b3)" opacity="0.45"/>
<path d="M46.2 525.8C46.2 523.91 48.15 523.57 50.53 523.57L61.57 523.57C63.95 523.57 65.9 523.91 65.9 525.8C65.9 527.69 63.95 528.02 61.57 528.02L50.53 528.02C48.15 528.02 46.2 527.69 46.2 525.8Z" fill="#0b0b0b" filter="url(#b1)"/>
<path d="M46.2 531C46.2 528.91 48.15 528.54 50.53 528.54L61.57 528.54C63.95 528.54 65.9 528.91 65.9 531C65.9 533.09 63.95 533.46 61.57 533.46L50.53 533.46C48.15 533.46 46.2 533.09 46.2 531Z" fill="#0b0b0b" filter="url(#b3)" opacity="0.45"/>
<path d="M46.2 531C46.2 528.91 48.15 528.54 50.53 528.54L61.57 528.54C63.95 528.54 65.9 528.91 65.9 531C65.9 533.09 63.95 533.46 61.57 533.46L50.53 533.46C48.15 533.46 46.2 533.09 46.2 531Z" fill="#0b0b0b" filter="url(#b1)"/>
<path d="M75.1 525.8C75.1 523.91 76.94 523.57 79.19 523.57L89.61 523.57C91.86 523.57 93.7 523.91 93.7 525.8C93.7 527.69 91.86 528.02 89.61 528.02L79.19 528.02C76.94 528.02 75.1 527.69 75.1 525.8Z" fill="#0b0b0b" filter="url(#b3)" opacity="0.45"/>
<path d="M75.1 525.8C75.1 523.91 76.94 523.57 79.19 523.57L89.61 523.57C91.86 523.57 93.7 523.91 93.7 525.8C93.7 527.69 91.86 528.02 89.61 528.02L79.19 528.02C76.94 528.02 75.1 527.69 75.1 525.8Z" fill="#0b0b0b" filter="url(#b1)"/>
<path d="M75.1 531C75.1 528.91 76.94 528.54 79.19 528.54L89.61 528.54C91.86 528.54 93.7 528.91 93.7 531C93.7 533.09 91.86 533.46 89.61 533.46L79.19 533.46C76.94 533.46 75.1 533.09 75.1 531Z" fill="#0b0b0b" filter="url(#b3)" opacity="0.45"/>
<path d="M75.1 531C75.1 528.91 76.94 528.54 79.19 528.54L89.61 528.54C91.86 528.54 93.7 528.91 93.7 531C93.7 533.09 91.86 533.46 89.61 533.46L79.19 533.46C76.94 533.46 75.1 533.09 75.1 531Z" fill="#0b0b0b" filter="url(#b1)"/>
<rect x="38.2" y="517.2" width="63.6" height="19.8" fill="none" stroke="#1a1a1a" stroke-width="0.9"/>
<rect x="38.2" y="540.2" width="63.6" height="18.3" fill="#c4c4c4"/>
<path d="M41.9 549.3C41.9 546.81 44.25 546.38 47.11 546.38L60.39 546.38C63.25 546.38 65.6 546.81 65.6 549.3C65.6 551.79 63.25 552.22 60.39 552.22L47.11 552.22C44.25 552.22 41.9 551.79 41.9 549.3Z" fill="#0b0b0b" filter="url(#b3)" opacity="0.45"/>
<path d="M41.9 549.3C41.9 546.81 44.25 546.38 47.11 546.38L60.39 546.38C63.25 546.38 65.6 546.81 65.6 549.3C65.6 551.79 63.25 552.22 60.39 552.22L47.11 552.22C44.25 552.22 41.9 551.79 41.9 549.3Z" fill="#0b0b0b" filter="url(#b1)"/>
<path d="M73.7 549.3C73.7 546.11 76.02 545.55 78.85 545.55L91.95 545.55C94.78 545.55 97.1 546.11 97.1 549.3C97.1 552.49 94.78 553.05 91.95 553.05L78.85 553.05C76.02 553.05 73.7 552.49 73.7 549.3Z" fill="#0b0b0b" filter="url(#b3)" opacity="0.45"/>
<path d="M73.7 549.3C73.7 546.11 76.02 545.55 78.85 545.55L91.95 545.55C94.78 545.55 97.1 546.11 97.1 549.3C97.1 552.49 94.78 553.05 91.95 553.05L78.85 553.05C76.02 553.05 73.7 552.49 73.7 549.3Z" fill="#0b0b0b" filter="url(#b1)"/>
<rect x="38.2" y="540.2" width="63.6" height="18.3" fill="none" stroke="#1a1a1a" stroke-width="0.9"/>
<rect x="38.2" y="561.8" width="63.6" height="18.7" fill="#cdcdcd"/>
<path d="M42.6 570.3C42.6 568.05 44.85 567.65 47.59 567.65L60.31 567.65C63.05 567.65 65.3 568.05 65.3 570.3C65.3 572.55 63.05 572.95 60.31 572.95L47.59 572.95C44.85 572.95 42.6 572.55 42.6 570.3Z" fill="#0b0b0b" filter="url(#b3)" opacity="0.45"/>
<path d="M42.6 570.3C42.6 568.05 44.85 567.65 47.59 567.65L60.31 567.65C63.05 567.65 65.3 568.05 65.3 570.3C65.3 572.55 63.05 572.95 60.31 572.95L47.59 572.95C44.85 572.95 42.6 572.55 42.6 570.3Z" fill="#0b0b0b" filter="url(#b1)"/>
<path d="M74.4 570.3C74.4 568.05 76.39 567.65 78.82 567.65L90.08 567.65C92.51 567.65 94.5 568.05 94.5 570.3C94.5 572.55 92.51 572.95 90.08 572.95L78.82 572.95C76.39 572.95 74.4 572.55 74.4 570.3Z" fill="#0b0b0b" filter="url(#b3)" opacity="0.45"/>
<path d="M74.4 570.3C74.4 568.05 76.39 567.65 78.82 567.65L90.08 567.65C92.51 567.65 94.5 568.05 94.5 570.3C94.5 572.55 92.51 572.95 90.08 572.95L78.82 572.95C76.39 572.95 74.4 572.55 74.4 570.3Z" fill="#0b0b0b" filter="url(#b1)"/>
<rect x="38.2" y="561.8" width="63.6" height="18.7" fill="none" stroke="#1a1a1a" stroke-width="0.9"/>
<rect x="38.2" y="583.3" width="63.6" height="20.5" fill="#c0c0c0"/>
<path d="M42.6 594.4C42.6 590.75 44.95 590.1 47.81 590.1L61.09 590.1C63.95 590.1 66.3 590.75 66.3 594.4C66.3 598.05 63.95 598.7 61.09 598.7L47.81 598.7C44.95 598.7 42.6 598.05 42.6 594.4Z" fill="#0b0b0b" filter="url(#b3)" opacity="0.45"/>
<path d="M42.6 594.4C42.6 590.75 44.95 590.1 47.81 590.1L61.09 590.1C63.95 590.1 66.3 590.75 66.3 594.4C66.3 598.05 63.95 598.7 61.09 598.7L47.81 598.7C44.95 598.7 42.6 598.05 42.6 594.4Z" fill="#0b0b0b" filter="url(#b1)"/>
<path d="M72.5 594.4C72.5 590.75 74.79 590.1 77.58 590.1L90.52 590.1C93.31 590.1 95.6 590.75 95.6 594.4C95.6 598.05 93.31 598.7 90.52 598.7L77.58 598.7C74.79 598.7 72.5 598.05 72.5 594.4Z" fill="#0b0b0b" filter="url(#b3)" opacity="0.45"/>
<path d="M72.5 594.4C72.5 590.75 74.79 590.1 77.58 590.1L90.52 590.1C93.31 590.1 95.6 590.75 95.6 594.4C95.6 598.05 93.31 598.7 90.52 598.7L77.58 598.7C74.79 598.7 72.5 598.05 72.5 594.4Z" fill="#0b0b0b" filter="url(#b1)"/>
<rect x="38.2" y="583.3" width="63.6" height="20.5" fill="none" stroke="#1a1a1a" stroke-width="0.9"/>
<rect x="105" y="450.6" width="65.4" height="19" fill="#aaaaaa"/>
<path d="M111.2 460.5C111.2 458.61 113.65 458.27 116.63 458.27L130.47 458.27C133.45 458.27 135.9 458.61 135.9 460.5C135.9 462.39 133.45 462.73 130.47 462.73L116.63 462.73C113.65 462.73 111.2 462.39 111.2 460.5Z" fill="#0b0b0b" filter="url(#b3)" opacity="0.45"/>
<path d="M111.2 460.5C111.2 458.61 113.65 458.27 116.63 458.27L130.47 458.27C133.45 458.27 135.9 458.61 135.9 460.5C135.9 462.39 133.45 462.73 130.47 462.73L116.63 462.73C113.65 462.73 111.2 462.39 111.2 460.5Z" fill="#0b0b0b" filter="url(#b1)"/>
<path d="M146.6 460C146.6 457.86 148.37 457.49 150.54 457.49L160.56 457.49C162.73 457.49 164.5 457.86 164.5 460C164.5 462.14 162.73 462.51 160.56 462.51L150.54 462.51C148.37 462.51 146.6 462.14 146.6 460Z" fill="#0b0b0b" filter="url(#b3)" opacity="0.45"/>
<path d="M146.6 460C146.6 457.86 148.37 457.49 150.54 457.49L160.56 457.49C162.73 457.49 164.5 457.86 164.5 460C164.5 462.14 162.73 462.51 160.56 462.51L150.54 462.51C148.37 462.51 146.6 462.14 146.6 460Z" fill="#0b0b0b" filter="url(#b1)"/>
<rect x="105" y="450.6" width="65.4" height="19" fill="none" stroke="#1a1a1a" stroke-width="0.9"/>
<rect x="105" y="473.4" width="65.4" height="17.8" fill="#9c9c9c"/>
<path d="M110.1 482.6C110.1 480.9 112.5 480.61 115.42 480.61L128.98 480.61C131.9 480.61 134.3 480.9 134.3 482.6C134.3 484.3 131.9 484.6 128.98 484.6L115.42 484.6C112.5 484.6 110.1 484.3 110.1 482.6Z" fill="#0b0b0b" filter="url(#b3)" opacity="0.45"/>
<path d="M110.1 482.6C110.1 480.9 112.5 480.61 115.42 480.61L128.98 480.61C131.9 480.61 134.3 480.9 134.3 482.6C134.3 484.3 131.9 484.6 128.98 484.6L115.42 484.6C112.5 484.6 110.1 484.3 110.1 482.6Z" fill="#0b0b0b" filter="url(#b1)"/>
<path d="M141.5 482.6C141.5 480.71 143.78 480.38 146.56 480.38L159.44 480.38C162.22 480.38 164.5 480.71 164.5 482.6C164.5 484.49 162.22 484.83 159.44 484.83L146.56 484.83C143.78 484.83 141.5 484.49 141.5 482.6Z" fill="#0b0b0b" filter="url(#b3)" opacity="0.45"/>
<path d="M141.5 482.6C141.5 480.71 143.78 480.38 146.56 480.38L159.44 480.38C162.22 480.38 164.5 480.71 164.5 482.6C164.5 484.49 162.22 484.83 159.44 484.83L146.56 484.83C143.78 484.83 141.5 484.49 141.5 482.6Z" fill="#0b0b0b" filter="url(#b1)"/>
<rect x="105" y="473.4" width="65.4" height="17.8" fill="none" stroke="#1a1a1a" stroke-width="0.9"/>
<rect x="105" y="494.3" width="65.4" height="18.3" fill="#d6d6d6"/>
<path d="M111.8 503.5C111.8 500.78 114.14 500.3 116.99 500.3L130.21 500.3C133.06 500.3 135.4 500.78 135.4 503.5C135.4 506.22 133.06 506.7 130.21 506.7L116.99 506.7C114.14 506.7 111.8 506.22 111.8 503.5Z" fill="#0b0b0b" filter="url(#b3)" opacity="0.45"/>
<path d="M111.8 503.5C111.8 500.78 114.14 500.3 116.99 500.3L130.21 500.3C133.06 500.3 135.4 500.78 135.4 503.5C135.4 506.22 133.06 506.7 130.21 506.7L116.99 506.7C114.14 506.7 111.8 506.22 111.8 503.5Z" fill="#0b0b0b" filter="url(#b1)"/>
<path d="M144.9 503.5C144.9 501.85 146.73 501.56 148.97 501.56L159.33 501.56C161.57 501.56 163.4 501.85 163.4 503.5C163.4 505.15 161.57 505.44 159.33 505.44L148.97 505.44C146.73 505.44 144.9 505.15 144.9 503.5Z" fill="#606060" filter="url(#b3)" opacity="0.45"/>
<path d="M144.9 503.5C144.9 501.85 146.73 501.56 148.97 501.56L159.33 501.56C161.57 501.56 163.4 501.85 163.4 503.5C163.4 505.15 161.57 505.44 159.33 505.44L148.97 505.44C146.73 505.44 144.9 505.15 144.9 503.5Z" fill="#606060" filter="url(#b1)"/>
<rect x="105" y="494.3" width="65.4" height="18.3" fill="none" stroke="#1a1a1a" stroke-width="0.9"/>
<rect x="105" y="517.2" width="65.4" height="19.6" fill="#d8d8d8"/>
<path d="M108.9 528.3C108.9 525.35 111.37 524.82 114.38 524.82L128.32 524.82C131.33 524.82 133.8 525.35 133.8 528.3C133.8 531.25 131.33 531.77 128.32 531.77L114.38 531.77C111.37 531.77 108.9 531.25 108.9 528.3Z" fill="#0b0b0b" filter="url(#b3)" opacity="0.45"/>
<path d="M108.9 528.3C108.9 525.35 111.37 524.82 114.38 524.82L128.32 524.82C131.33 524.82 133.8 525.35 133.8 528.3C133.8 531.25 131.33 531.77 128.32 531.77L114.38 531.77C111.37 531.77 108.9 531.25 108.9 528.3Z" fill="#0b0b0b" filter="url(#b1)"/>
<path d="M143.3 527.3C143.3 524.58 145.53 524.1 148.25 524.1L160.85 524.1C163.57 524.1 165.8 524.58 165.8 527.3C165.8 530.02 163.57 530.5 160.85 530.5L148.25 530.5C145.53 530.5 143.3 530.02 143.3 527.3Z" fill="#0b0b0b" filter="url(#b3)" opacity="0.45"/>
<path d="M143.3 527.3C143.3 524.58 145.53 524.1 148.25 524.1L160.85 524.1C163.57 524.1 165.8 524.58 165.8 527.3C165.8 530.02 163.57 530.5 160.85 530.5L148.25 530.5C145.53 530.5 143.3 530.02 143.3 527.3Z" fill="#0b0b0b" filter="url(#b1)"/>
<rect x="105" y="517.2" width="65.4" height="19.6" fill="none" stroke="#1a1a1a" stroke-width="0.9"/>
<rect x="105" y="539.5" width="65.4" height="18.8" fill="#a8a8a8"/>
<rect x="105" y="556.1" width="65.4" height="2.2" fill="#f4f4f4"/>
<path d="M109.7 548.5C109.7 546.25 112.18 545.85 115.22 545.85L129.28 545.85C132.32 545.85 134.8 546.25 134.8 548.5C134.8 550.75 132.32 551.15 129.28 551.15L115.22 551.15C112.18 551.15 109.7 550.75 109.7 548.5Z" fill="#0b0b0b" filter="url(#b3)" opacity="0.45"/>
<path d="M109.7 548.5C109.7 546.25 112.18 545.85 115.22 545.85L129.28 545.85C132.32 545.85 134.8 546.25 134.8 548.5C134.8 550.75 132.32 551.15 129.28 551.15L115.22 551.15C112.18 551.15 109.7 550.75 109.7 548.5Z" fill="#0b0b0b" filter="url(#b1)"/>
<path d="M138.5 548C138.5 544.35 141.2 543.7 144.5 543.7L160.5 543.7C163.8 543.7 166.5 544.35 166.5 548C166.5 551.65 163.8 552.3 160.5 552.3L144.5 552.3C141.2 552.3 138.5 551.65 138.5 548Z" fill="#0b0b0b" filter="url(#b3)" opacity="0.45"/>
<path d="M138.5 548C138.5 544.35 141.2 543.7 144.5 543.7L160.5 543.7C163.8 543.7 166.5 544.35 166.5 548C166.5 551.65 163.8 552.3 160.5 552.3L144.5 552.3C141.2 552.3 138.5 551.65 138.5 548Z" fill="#0b0b0b" filter="url(#b1)"/>
<rect x="105" y="539.5" width="65.4" height="18.8" fill="none" stroke="#1a1a1a" stroke-width="0.9"/>
<rect x="105" y="561.5" width="65.4" height="18.5" fill="#a5a5a5"/>
<rect x="105" y="577.6" width="65.4" height="2.4" fill="#f4f4f4"/>
<path d="M108.9 570.1C108.9 567.38 111.6 566.9 114.9 566.9L130.2 566.9C133.5 566.9 136.2 567.38 136.2 570.1C136.2 572.82 133.5 573.3 130.2 573.3L114.9 573.3C111.6 573.3 108.9 572.82 108.9 570.1Z" fill="#0b0b0b" filter="url(#b3)" opacity="0.45"/>
<path d="M108.9 570.1C108.9 567.38 111.6 566.9 114.9 566.9L130.2 566.9C133.5 566.9 136.2 567.38 136.2 570.1C136.2 572.82 133.5 573.3 130.2 573.3L114.9 573.3C111.6 573.3 108.9 572.82 108.9 570.1Z" fill="#0b0b0b" filter="url(#b1)"/>
<path d="M143.5 570.1C143.5 567.38 145.93 566.9 148.89 566.9L162.61 566.9C165.57 566.9 168 567.38 168 570.1C168 572.82 165.57 573.3 162.61 573.3L148.89 573.3C145.93 573.3 143.5 572.82 143.5 570.1Z" fill="#0b0b0b" filter="url(#b3)" opacity="0.45"/>
<path d="M143.5 570.1C143.5 567.38 145.93 566.9 148.89 566.9L162.61 566.9C165.57 566.9 168 567.38 168 570.1C168 572.82 165.57 573.3 162.61 573.3L148.89 573.3C145.93 573.3 143.5 572.82 143.5 570.1Z" fill="#0b0b0b" filter="url(#b1)"/>
<rect x="105" y="561.5" width="65.4" height="18.5" fill="none" stroke="#1a1a1a" stroke-width="0.9"/>
<rect x="105" y="583.5" width="65.4" height="20" fill="#cdcdcd"/>
<path d="M110.4 593.2C110.4 590.01 112.72 589.45 115.55 589.45L128.65 589.45C131.48 589.45 133.8 590.01 133.8 593.2C133.8 596.39 131.48 596.95 128.65 596.95L115.55 596.95C112.72 596.95 110.4 596.39 110.4 593.2Z" fill="#0b0b0b" filter="url(#b3)" opacity="0.45"/>
<path d="M110.4 593.2C110.4 590.01 112.72 589.45 115.55 589.45L128.65 589.45C131.48 589.45 133.8 590.01 133.8 593.2C133.8 596.39 131.48 596.95 128.65 596.95L115.55 596.95C112.72 596.95 110.4 596.39 110.4 593.2Z" fill="#0b0b0b" filter="url(#b1)"/>
<path d="M140.4 593.2C140.4 590.01 142.77 589.45 145.66 589.45L159.04 589.45C161.93 589.45 164.3 590.01 164.3 593.2C164.3 596.39 161.93 596.95 159.04 596.95L145.66 596.95C142.77 596.95 140.4 596.39 140.4 593.2Z" fill="#0b0b0b" filter="url(#b3)" opacity="0.45"/>
<path d="M140.4 593.2C140.4 590.01 142.77 589.45 145.66 589.45L159.04 589.45C161.93 589.45 164.3 590.01 164.3 593.2C164.3 596.39 161.93 596.95 159.04 596.95L145.66 596.95C142.77 596.95 140.4 596.39 140.4 593.2Z" fill="#0b0b0b" filter="url(#b1)"/>
<rect x="105" y="583.5" width="65.4" height="20" fill="none" stroke="#1a1a1a" stroke-width="0.9"/>
<rect x="380.8" y="447.4" width="64.5" height="19.9" fill="#a0a0a0"/>
<path d="M386.7 456.1C386.7 453.38 388.64 452.9 391.01 452.9L401.99 452.9C404.36 452.9 406.3 453.38 406.3 456.1C406.3 458.82 404.36 459.3 401.99 459.3L391.01 459.3C388.64 459.3 386.7 458.82 386.7 456.1Z" fill="#0b0b0b" filter="url(#b3)" opacity="0.45"/>
<path d="M386.7 456.1C386.7 453.38 388.64 452.9 391.01 452.9L401.99 452.9C404.36 452.9 406.3 453.38 406.3 456.1C406.3 458.82 404.36 459.3 401.99 459.3L391.01 459.3C388.64 459.3 386.7 458.82 386.7 456.1Z" fill="#0b0b0b" filter="url(#b1)"/>
<path d="M415.8 456.6C415.8 454.46 418.09 454.09 420.88 454.09L433.82 454.09C436.61 454.09 438.9 454.46 438.9 456.6C438.9 458.74 436.61 459.11 433.82 459.11L420.88 459.11C418.09 459.11 415.8 458.74 415.8 456.6Z" fill="#0b0b0b" filter="url(#b3)" opacity="0.45"/>
<path d="M415.8 456.6C415.8 454.46 418.09 454.09 420.88 454.09L433.82 454.09C436.61 454.09 438.9 454.46 438.9 456.6C438.9 458.74 436.61 459.11 433.82 459.11L420.88 459.11C418.09 459.11 415.8 458.74 415.8 456.6Z" fill="#0b0b0b" filter="url(#b1)"/>
<rect x="380.8" y="447.4" width="64.5" height="19.9" fill="none" stroke="#1a1a1a" stroke-width="0.9"/>
<rect x="380.8" y="469.7" width="64.5" height="18.5" fill="#9b9b9b"/>
<path d="M386.1 478.8C386.1 475.61 388.16 475.05 390.68 475.05L402.32 475.05C404.84 475.05 406.9 475.61 406.9 478.8C406.9 481.99 404.84 482.55 402.32 482.55L390.68 482.55C388.16 482.55 386.1 481.99 386.1 478.8Z" fill="#0b0b0b" filter="url(#b3)" opacity="0.45"/>
<path d="M386.1 478.8C386.1 475.61 388.16 475.05 390.68 475.05L402.32 475.05C404.84 475.05 406.9 475.61 406.9 478.8C406.9 481.99 404.84 482.55 402.32 482.55L390.68 482.55C388.16 482.55 386.1 481.99 386.1 478.8Z" fill="#0b0b0b" filter="url(#b1)"/>
<path d="M415.3 479.2C415.3 476.95 417.75 476.55 420.73 476.55L434.57 476.55C437.55 476.55 440 476.95 440 479.2C440 481.45 437.55 481.85 434.57 481.85L420.73 481.85C417.75 481.85 415.3 481.45 415.3 479.2Z" fill="#0b0b0b" filter="url(#b3)" opacity="0.45"/>
<path d="M415.3 479.2C415.3 476.95 417.75 476.55 420.73 476.55L434.57 476.55C437.55 476.55 440 476.95 440 479.2C440 481.45 437.55 481.85 434.57 481.85L420.73 481.85C417.75 481.85 415.3 481.45 415.3 479.2Z" fill="#0b0b0b" filter="url(#b1)"/>
<rect x="380.8" y="469.7" width="64.5" height="18.5" fill="none" stroke="#1a1a1a" stroke-width="0.9"/>
<rect x="380.8" y="491.2" width="64.5" height="20.2" fill="#dcdcdc"/>
<path d="M388.4 502.3C388.4 499.58 390.51 499.1 393.09 499.1L405.01 499.1C407.59 499.1 409.7 499.58 409.7 502.3C409.7 505.02 407.59 505.5 405.01 505.5L393.09 505.5C390.51 505.5 388.4 505.02 388.4 502.3Z" fill="#0b0b0b" filter="url(#b3)" opacity="0.45"/>
<path d="M388.4 502.3C388.4 499.58 390.51 499.1 393.09 499.1L405.01 499.1C407.59 499.1 409.7 499.58 409.7 502.3C409.7 505.02 407.59 505.5 405.01 505.5L393.09 505.5C390.51 505.5 388.4 505.02 388.4 502.3Z" fill="#0b0b0b" filter="url(#b1)"/>
<path d="M415.8 502.2C415.8 500.31 418.14 499.97 420.99 499.97L434.21 499.97C437.06 499.97 439.4 500.31 439.4 502.2C439.4 504.09 437.06 504.43 434.21 504.43L420.99 504.43C418.14 504.43 415.8 504.09 415.8 502.2Z" fill="#0b0b0b" filter="url(#b3)" opacity="0.45"/>
<path d="M415.8 502.2C415.8 500.31 418.14 499.97 420.99 499.97L434.21 499.97C437.06 499.97 439.4 500.31 439.4 502.2C439.4 504.09 437.06 504.43 434.21 504.43L420.99 504.43C418.14 504.43 415.8 504.09 415.8 502.2Z" fill="#0b0b0b" filter="url(#b1)"/>
<rect x="380.8" y="491.2" width="64.5" height="20.2" fill="none" stroke="#1a1a1a" stroke-width="0.9"/>
<rect x="380.8" y="513.8" width="64.5" height="20.4" fill="#e0e0e0"/>
<path d="M387.5 525.1C387.5 523.21 389.57 522.88 392.1 522.88L403.8 522.88C406.33 522.88 408.4 523.21 408.4 525.1C408.4 526.99 406.33 527.33 403.8 527.33L392.1 527.33C389.57 527.33 387.5 526.99 387.5 525.1Z" fill="#333" filter="url(#b3)" opacity="0.45"/>
<path d="M387.5 525.1C387.5 523.21 389.57 522.88 392.1 522.88L403.8 522.88C406.33 522.88 408.4 523.21 408.4 525.1C408.4 526.99 406.33 527.33 403.8 527.33L392.1 527.33C389.57 527.33 387.5 526.99 387.5 525.1Z" fill="#333" filter="url(#b1)"/>
<path d="M416.1 525C416.1 522.51 418.48 522.08 421.38 522.08L434.82 522.08C437.72 522.08 440.1 522.51 440.1 525C440.1 527.49 437.72 527.92 434.82 527.92L421.38 527.92C418.48 527.92 416.1 527.49 416.1 525Z" fill="#0b0b0b" filter="url(#b3)" opacity="0.45"/>
<path d="M416.1 525C416.1 522.51 418.48 522.08 421.38 522.08L434.82 522.08C437.72 522.08 440.1 522.51 440.1 525C440.1 527.49 437.72 527.92 434.82 527.92L421.38 527.92C418.48 527.92 416.1 527.49 416.1 525Z" fill="#0b0b0b" filter="url(#b1)"/>
<rect x="380.8" y="513.8" width="64.5" height="20.4" fill="none" stroke="#1a1a1a" stroke-width="0.9"/>
<rect x="380.8" y="536.4" width="64.5" height="20.1" fill="#ababab"/>
<path d="M388.2 548.4C388.2 546.15 390.17 545.75 392.58 545.75L403.72 545.75C406.13 545.75 408.1 546.15 408.1 548.4C408.1 550.65 406.13 551.05 403.72 551.05L392.58 551.05C390.17 551.05 388.2 550.65 388.2 548.4Z" fill="#0b0b0b" filter="url(#b3)" opacity="0.45"/>
<path d="M388.2 548.4C388.2 546.15 390.17 545.75 392.58 545.75L403.72 545.75C406.13 545.75 408.1 546.15 408.1 548.4C408.1 550.65 406.13 551.05 403.72 551.05L392.58 551.05C390.17 551.05 388.2 550.65 388.2 548.4Z" fill="#0b0b0b" filter="url(#b1)"/>
<path d="M420.6 548.4C420.6 546.75 422.53 546.46 424.89 546.46L435.81 546.46C438.17 546.46 440.1 546.75 440.1 548.4C440.1 550.05 438.17 550.34 435.81 550.34L424.89 550.34C422.53 550.34 420.6 550.05 420.6 548.4Z" fill="#6a6a6a" filter="url(#b3)" opacity="0.45"/>
<path d="M420.6 548.4C420.6 546.75 422.53 546.46 424.89 546.46L435.81 546.46C438.17 546.46 440.1 546.75 440.1 548.4C440.1 550.05 438.17 550.34 435.81 550.34L424.89 550.34C422.53 550.34 420.6 550.05 420.6 548.4Z" fill="#6a6a6a" filter="url(#b1)"/>
<rect x="380.8" y="536.4" width="64.5" height="20.1" fill="none" stroke="#1a1a1a" stroke-width="0.9"/>
<rect x="380.8" y="559.2" width="64.5" height="20.2" fill="#b5b5b5"/>
<path d="M389 570.6C389 568.35 391.07 567.95 393.6 567.95L405.3 567.95C407.83 567.95 409.9 568.35 409.9 570.6C409.9 572.85 407.83 573.25 405.3 573.25L393.6 573.25C391.07 573.25 389 572.85 389 570.6Z" fill="#303030" filter="url(#b3)" opacity="0.45"/>
<path d="M389 570.6C389 568.35 391.07 567.95 393.6 567.95L405.3 567.95C407.83 567.95 409.9 568.35 409.9 570.6C409.9 572.85 407.83 573.25 405.3 573.25L393.6 573.25C391.07 573.25 389 572.85 389 570.6Z" fill="#303030" filter="url(#b1)"/>
<path d="M422.9 571.8C422.9 568.85 425.12 568.32 427.83 568.32L440.37 568.32C443.08 568.32 445.3 568.85 445.3 571.8C445.3 574.75 443.08 575.27 440.37 575.27L427.83 575.27C425.12 575.27 422.9 574.75 422.9 571.8Z" fill="#0b0b0b" filter="url(#b3)" opacity="0.45"/>
<path d="M422.9 571.8C422.9 568.85 425.12 568.32 427.83 568.32L440.37 568.32C443.08 568.32 445.3 568.85 445.3 571.8C445.3 574.75 443.08 575.27 440.37 575.27L427.83 575.27C425.12 575.27 422.9 574.75 422.9 571.8Z" fill="#0b0b0b" filter="url(#b1)"/>
<rect x="380.8" y="559.2" width="64.5" height="20.2" fill="none" stroke="#1a1a1a" stroke-width="0.9"/>
<rect x="380.8" y="581.4" width="64.5" height="19.2" fill="#c5c5c5"/>
<path d="M386.7 591.3C386.7 586.71 389.33 585.9 392.55 585.9L407.45 585.9C410.67 585.9 413.3 586.71 413.3 591.3C413.3 595.89 410.67 596.7 407.45 596.7L392.55 596.7C389.33 596.7 386.7 595.89 386.7 591.3Z" fill="#0b0b0b" filter="url(#b3)" opacity="0.45"/>
<path d="M386.7 591.3C386.7 586.71 389.33 585.9 392.55 585.9L407.45 585.9C410.67 585.9 413.3 586.71 413.3 591.3C413.3 595.89 410.67 596.7 407.45 596.7L392.55 596.7C389.33 596.7 386.7 595.89 386.7 591.3Z" fill="#0b0b0b" filter="url(#b1)"/>
<path d="M416.6 590C416.6 586.35 419 585.7 421.92 585.7L435.48 585.7C438.4 585.7 440.8 586.35 440.8 590C440.8 593.65 438.4 594.3 435.48 594.3L421.92 594.3C419 594.3 416.6 593.65 416.6 590Z" fill="#0b0b0b" filter="url(#b3)" opacity="0.45"/>
<path d="M416.6 590C416.6 586.35 419 585.7 421.92 585.7L435.48 585.7C438.4 585.7 440.8 586.35 440.8 590C440.8 593.65 438.4 594.3 435.48 594.3L421.92 594.3C419 594.3 416.6 593.65 416.6 590Z" fill="#0b0b0b" filter="url(#b1)"/>
<rect x="380.8" y="581.4" width="64.5" height="19.2" fill="none" stroke="#1a1a1a" stroke-width="0.9"/>
<rect x="448.8" y="447.4" width="59.8" height="19.9" fill="#b5b5b5"/>
<path d="M454.7 451.9C454.7 450.74 456.24 450.54 458.13 450.54L466.87 450.54C468.76 450.54 470.3 450.74 470.3 451.9C470.3 453.06 468.76 453.26 466.87 453.26L458.13 453.26C456.24 453.26 454.7 453.06 454.7 451.9Z" fill="#555" filter="url(#b3)" opacity="0.45"/>
<path d="M454.7 451.9C454.7 450.74 456.24 450.54 458.13 450.54L466.87 450.54C468.76 450.54 470.3 450.74 470.3 451.9C470.3 453.06 468.76 453.26 466.87 453.26L458.13 453.26C456.24 453.26 454.7 453.06 454.7 451.9Z" fill="#555" filter="url(#b1)"/>
<path d="M485.7 452.2C485.7 451.19 487.24 451.01 489.13 451.01L497.87 451.01C499.76 451.01 501.3 451.19 501.3 452.2C501.3 453.21 499.76 453.39 497.87 453.39L489.13 453.39C487.24 453.39 485.7 453.21 485.7 452.2Z" fill="#8a8a8a" filter="url(#b3)" opacity="0.45"/>
<path d="M485.7 452.2C485.7 451.19 487.24 451.01 489.13 451.01L497.87 451.01C499.76 451.01 501.3 451.19 501.3 452.2C501.3 453.21 499.76 453.39 497.87 453.39L489.13 453.39C487.24 453.39 485.7 453.21 485.7 452.2Z" fill="#8a8a8a" filter="url(#b1)"/>
<path d="M452.8 459.1C452.8 455.45 455.17 454.8 458.06 454.8L471.44 454.8C474.33 454.8 476.7 455.45 476.7 459.1C476.7 462.75 474.33 463.4 471.44 463.4L458.06 463.4C455.17 463.4 452.8 462.75 452.8 459.1Z" fill="#0b0b0b" filter="url(#b3)" opacity="0.45"/>
<path d="M452.8 459.1C452.8 455.45 455.17 454.8 458.06 454.8L471.44 454.8C474.33 454.8 476.7 455.45 476.7 459.1C476.7 462.75 474.33 463.4 471.44 463.4L458.06 463.4C455.17 463.4 452.8 462.75 452.8 459.1Z" fill="#0b0b0b" filter="url(#b1)"/>
<path d="M481.2 458.5C481.2 455.55 483.54 455.02 486.39 455.02L499.61 455.02C502.46 455.02 504.8 455.55 504.8 458.5C504.8 461.45 502.46 461.98 499.61 461.98L486.39 461.98C483.54 461.98 481.2 461.45 481.2 458.5Z" fill="#0b0b0b" filter="url(#b3)" opacity="0.45"/>
<path d="M481.2 458.5C481.2 455.55 483.54 455.02 486.39 455.02L499.61 455.02C502.46 455.02 504.8 455.55 504.8 458.5C504.8 461.45 502.46 461.98 499.61 461.98L486.39 461.98C483.54 461.98 481.2 461.45 481.2 458.5Z" fill="#0b0b0b" filter="url(#b1)"/>
<rect x="448.8" y="447.4" width="59.8" height="19.9" fill="none" stroke="#1a1a1a" stroke-width="0.9"/>
<rect x="448.8" y="469.6" width="59.8" height="18.4" fill="#9a9a9a"/>
<path d="M455.4 480.5C455.4 475.91 457.79 475.1 460.7 475.1L474.2 475.1C477.11 475.1 479.5 475.91 479.5 480.5C479.5 485.09 477.11 485.9 474.2 485.9L460.7 485.9C457.79 485.9 455.4 485.09 455.4 480.5Z" fill="#0b0b0b" filter="url(#b3)" opacity="0.45"/>
<path d="M455.4 480.5C455.4 475.91 457.79 475.1 460.7 475.1L474.2 475.1C477.11 475.1 479.5 475.91 479.5 480.5C479.5 485.09 477.11 485.9 474.2 485.9L460.7 485.9C457.79 485.9 455.4 485.09 455.4 480.5Z" fill="#0b0b0b" filter="url(#b1)"/>
<path d="M484.9 479.6C484.9 475.95 486.75 475.3 489.01 475.3L499.49 475.3C501.75 475.3 503.6 475.95 503.6 479.6C503.6 483.25 501.75 483.9 499.49 483.9L489.01 483.9C486.75 483.9 484.9 483.25 484.9 479.6Z" fill="#0b0b0b" filter="url(#b3)" opacity="0.45"/>
<path d="M484.9 479.6C484.9 475.95 486.75 475.3 489.01 475.3L499.49 475.3C501.75 475.3 503.6 475.95 503.6 479.6C503.6 483.25 501.75 483.9 499.49 483.9L489.01 483.9C486.75 483.9 484.9 483.25 484.9 479.6Z" fill="#0b0b0b" filter="url(#b1)"/>
<rect x="448.8" y="469.6" width="59.8" height="18.4" fill="none" stroke="#1a1a1a" stroke-width="0.9"/>
<rect x="448.8" y="490.6" width="59.8" height="20.9" fill="#d5d5d5"/>
<path d="M455.4 499C455.4 497.35 457.51 497.06 460.09 497.06L472.01 497.06C474.59 497.06 476.7 497.35 476.7 499C476.7 500.65 474.59 500.94 472.01 500.94L460.09 500.94C457.51 500.94 455.4 500.65 455.4 499Z" fill="#0b0b0b" filter="url(#b3)" opacity="0.45"/>
<path d="M455.4 499C455.4 497.35 457.51 497.06 460.09 497.06L472.01 497.06C474.59 497.06 476.7 497.35 476.7 499C476.7 500.65 474.59 500.94 472.01 500.94L460.09 500.94C457.51 500.94 455.4 500.65 455.4 499Z" fill="#0b0b0b" filter="url(#b1)"/>
<path d="M455.4 503.7C455.4 501.56 457.51 501.19 460.09 501.19L472.01 501.19C474.59 501.19 476.7 501.56 476.7 503.7C476.7 505.84 474.59 506.21 472.01 506.21L460.09 506.21C457.51 506.21 455.4 505.84 455.4 503.7Z" fill="#0b0b0b" filter="url(#b3)" opacity="0.45"/>
<path d="M455.4 503.7C455.4 501.56 457.51 501.19 460.09 501.19L472.01 501.19C474.59 501.19 476.7 501.56 476.7 503.7C476.7 505.84 474.59 506.21 472.01 506.21L460.09 506.21C457.51 506.21 455.4 505.84 455.4 503.7Z" fill="#0b0b0b" filter="url(#b1)"/>
<path d="M485.1 499C485.1 497.6 486.65 497.35 488.55 497.35L497.35 497.35C499.25 497.35 500.8 497.6 500.8 499C500.8 500.4 499.25 500.65 497.35 500.65L488.55 500.65C486.65 500.65 485.1 500.4 485.1 499Z" fill="#777" filter="url(#b3)" opacity="0.45"/>
<path d="M485.1 499C485.1 497.6 486.65 497.35 488.55 497.35L497.35 497.35C499.25 497.35 500.8 497.6 500.8 499C500.8 500.4 499.25 500.65 497.35 500.65L488.55 500.65C486.65 500.65 485.1 500.4 485.1 499Z" fill="#777" filter="url(#b1)"/>
<path d="M485.1 503.7C485.1 502.05 486.65 501.76 488.55 501.76L497.35 501.76C499.25 501.76 500.8 502.05 500.8 503.7C500.8 505.35 499.25 505.64 497.35 505.64L488.55 505.64C486.65 505.64 485.1 505.35 485.1 503.7Z" fill="#666" filter="url(#b3)" opacity="0.45"/>
<path d="M485.1 503.7C485.1 502.05 486.65 501.76 488.55 501.76L497.35 501.76C499.25 501.76 500.8 502.05 500.8 503.7C500.8 505.35 499.25 505.64 497.35 505.64L488.55 505.64C486.65 505.64 485.1 505.35 485.1 503.7Z" fill="#666" filter="url(#b1)"/>
<rect x="448.8" y="490.6" width="59.8" height="20.9" fill="none" stroke="#1a1a1a" stroke-width="0.9"/>
<rect x="448.8" y="514.2" width="59.8" height="20.1" fill="#d0d0d0"/>
<path d="M455.2 520.8C455.2 519.4 457.47 519.15 460.24 519.15L473.06 519.15C475.83 519.15 478.1 519.4 478.1 520.8C478.1 522.2 475.83 522.45 473.06 522.45L460.24 522.45C457.47 522.45 455.2 522.2 455.2 520.8Z" fill="#333" filter="url(#b3)" opacity="0.45"/>
<path d="M455.2 520.8C455.2 519.4 457.47 519.15 460.24 519.15L473.06 519.15C475.83 519.15 478.1 519.4 478.1 520.8C478.1 522.2 475.83 522.45 473.06 522.45L460.24 522.45C457.47 522.45 455.2 522.2 455.2 520.8Z" fill="#333" filter="url(#b1)"/>
<path d="M455.2 528.1C455.2 525.61 457.47 525.18 460.24 525.18L473.06 525.18C475.83 525.18 478.1 525.61 478.1 528.1C478.1 530.59 475.83 531.02 473.06 531.02L460.24 531.02C457.47 531.02 455.2 530.59 455.2 528.1Z" fill="#0b0b0b" filter="url(#b3)" opacity="0.45"/>
<path d="M455.2 528.1C455.2 525.61 457.47 525.18 460.24 525.18L473.06 525.18C475.83 525.18 478.1 525.61 478.1 528.1C478.1 530.59 475.83 531.02 473.06 531.02L460.24 531.02C457.47 531.02 455.2 530.59 455.2 528.1Z" fill="#0b0b0b" filter="url(#b1)"/>
<path d="M484.1 520.8C484.1 519.4 486 519.15 488.32 519.15L499.08 519.15C501.4 519.15 503.3 519.4 503.3 520.8C503.3 522.2 501.4 522.45 499.08 522.45L488.32 522.45C486 522.45 484.1 522.2 484.1 520.8Z" fill="#2a2a2a" filter="url(#b3)" opacity="0.45"/>
<path d="M484.1 520.8C484.1 519.4 486 519.15 488.32 519.15L499.08 519.15C501.4 519.15 503.3 519.4 503.3 520.8C503.3 522.2 501.4 522.45 499.08 522.45L488.32 522.45C486 522.45 484.1 522.2 484.1 520.8Z" fill="#2a2a2a" filter="url(#b1)"/>
<path d="M484.1 528.1C484.1 525.61 486 525.18 488.32 525.18L499.08 525.18C501.4 525.18 503.3 525.61 503.3 528.1C503.3 530.59 501.4 531.02 499.08 531.02L488.32 531.02C486 531.02 484.1 530.59 484.1 528.1Z" fill="#0b0b0b" filter="url(#b3)" opacity="0.45"/>
<path d="M484.1 528.1C484.1 525.61 486 525.18 488.32 525.18L499.08 525.18C501.4 525.18 503.3 525.61 503.3 528.1C503.3 530.59 501.4 531.02 499.08 531.02L488.32 531.02C486 531.02 484.1 530.59 484.1 528.1Z" fill="#0b0b0b" filter="url(#b1)"/>
<rect x="448.8" y="514.2" width="59.8" height="20.1" fill="none" stroke="#1a1a1a" stroke-width="0.9"/>
<rect x="448.8" y="537.2" width="59.8" height="19" fill="#b2b2b2"/>
<path d="M453.7 547.3C453.7 543.64 456 543 458.8 543L471.8 543C474.6 543 476.9 543.64 476.9 547.3C476.9 550.95 474.6 551.6 471.8 551.6L458.8 551.6C456 551.6 453.7 550.95 453.7 547.3Z" fill="#0b0b0b" filter="url(#b3)" opacity="0.45"/>
<path d="M453.7 547.3C453.7 543.64 456 543 458.8 543L471.8 543C474.6 543 476.9 543.64 476.9 547.3C476.9 550.95 474.6 551.6 471.8 551.6L458.8 551.6C456 551.6 453.7 550.95 453.7 547.3Z" fill="#0b0b0b" filter="url(#b1)"/>
<path d="M484.1 547C484.1 543.35 486.37 542.7 489.14 542.7L501.96 542.7C504.73 542.7 507 543.35 507 547C507 550.65 504.73 551.3 501.96 551.3L489.14 551.3C486.37 551.3 484.1 550.65 484.1 547Z" fill="#1a1a1a" filter="url(#b3)" opacity="0.45"/>
<path d="M484.1 547C484.1 543.35 486.37 542.7 489.14 542.7L501.96 542.7C504.73 542.7 507 543.35 507 547C507 550.65 504.73 551.3 501.96 551.3L489.14 551.3C486.37 551.3 484.1 550.65 484.1 547Z" fill="#1a1a1a" filter="url(#b1)"/>
<rect x="448.8" y="537.2" width="59.8" height="19" fill="none" stroke="#1a1a1a" stroke-width="0.9"/>
<rect x="448.8" y="559" width="59.8" height="20.2" fill="#c8c8c8"/>
<path d="M455.2 569C455.2 565.81 457.47 565.25 460.24 565.25L473.06 565.25C475.83 565.25 478.1 565.81 478.1 569C478.1 572.19 475.83 572.75 473.06 572.75L460.24 572.75C457.47 572.75 455.2 572.19 455.2 569Z" fill="#0b0b0b" filter="url(#b3)" opacity="0.45"/>
<path d="M455.2 569C455.2 565.81 457.47 565.25 460.24 565.25L473.06 565.25C475.83 565.25 478.1 565.81 478.1 569C478.1 572.19 475.83 572.75 473.06 572.75L460.24 572.75C457.47 572.75 455.2 572.19 455.2 569Z" fill="#0b0b0b" filter="url(#b1)"/>
<path d="M482 567.5C482 564.55 484.11 564.02 486.69 564.02L498.61 564.02C501.19 564.02 503.3 564.55 503.3 567.5C503.3 570.45 501.19 570.98 498.61 570.98L486.69 570.98C484.11 570.98 482 570.45 482 567.5Z" fill="#0b0b0b" filter="url(#b3)" opacity="0.45"/>
<path d="M482 567.5C482 564.55 484.11 564.02 486.69 564.02L498.61 564.02C501.19 564.02 503.3 564.55 503.3 567.5C503.3 570.45 501.19 570.98 498.61 570.98L486.69 570.98C484.11 570.98 482 570.45 482 567.5Z" fill="#0b0b0b" filter="url(#b1)"/>
<rect x="448.8" y="559" width="59.8" height="20.2" fill="none" stroke="#1a1a1a" stroke-width="0.9"/>
<rect x="448.8" y="581" width="59.8" height="19.3" fill="#cacaca"/>
<path d="M452.2 590.5C452.2 588.01 454.43 587.58 457.15 587.58L469.75 587.58C472.47 587.58 474.7 588.01 474.7 590.5C474.7 592.99 472.47 593.42 469.75 593.42L457.15 593.42C454.43 593.42 452.2 592.99 452.2 590.5Z" fill="#0b0b0b" filter="url(#b3)" opacity="0.45"/>
<path d="M452.2 590.5C452.2 588.01 454.43 587.58 457.15 587.58L469.75 587.58C472.47 587.58 474.7 588.01 474.7 590.5C474.7 592.99 472.47 593.42 469.75 593.42L457.15 593.42C454.43 593.42 452.2 592.99 452.2 590.5Z" fill="#0b0b0b" filter="url(#b1)"/>
<path d="M480.5 590.5C480.5 588.01 482.83 587.58 485.67 587.58L498.83 587.58C501.67 587.58 504 588.01 504 590.5C504 592.99 501.67 593.42 498.83 593.42L485.67 593.42C482.83 593.42 480.5 592.99 480.5 590.5Z" fill="#0b0b0b" filter="url(#b3)" opacity="0.45"/>
<path d="M480.5 590.5C480.5 588.01 482.83 587.58 485.67 587.58L498.83 587.58C501.67 587.58 504 588.01 504 590.5C504 592.99 501.67 593.42 498.83 593.42L485.67 593.42C482.83 593.42 480.5 592.99 480.5 590.5Z" fill="#0b0b0b" filter="url(#b1)"/>
<rect x="448.8" y="581" width="59.8" height="19.3" fill="none" stroke="#1a1a1a" stroke-width="0.9"/>
<text x="7.8" y="465.4" font-family='"Liberation Serif", serif' font-size="10.6" fill="#111" textLength="24.3" lengthAdjust="spacingAndGlyphs">P-P38</text>
<text x="14.9" y="485.9" font-family='"Liberation Serif", serif' font-size="10.6" fill="#111" textLength="15.4" lengthAdjust="spacingAndGlyphs">P38</text>
<text x="5.6" y="506.9" font-family='"Liberation Serif", serif' font-size="10.6" fill="#111" textLength="27.7" lengthAdjust="spacingAndGlyphs">P-ERK</text>
<text x="11" y="531.3" font-family='"Liberation Serif", serif' font-size="10.6" fill="#111" textLength="19" lengthAdjust="spacingAndGlyphs">ERK</text>
<text x="7.5" y="551.5" font-family='"Liberation Serif", serif' font-size="10.6" fill="#111" textLength="25.8" lengthAdjust="spacingAndGlyphs">P-JNK</text>
<text x="9.4" y="574" font-family='"Liberation Serif", serif' font-size="10.6" fill="#111" textLength="17.7" lengthAdjust="spacingAndGlyphs">JNK</text>
<text x="3.6" y="596.3" font-family='"Liberation Serif", serif' font-size="10.6" fill="#111" textLength="30.3" lengthAdjust="spacingAndGlyphs">β-actin</text>
<text x="352" y="464.2" font-family='"Liberation Serif", serif' font-size="10.6" fill="#111" textLength="24.5" lengthAdjust="spacingAndGlyphs">P-P38</text>
<text x="358.9" y="485.3" font-family='"Liberation Serif", serif' font-size="10.6" fill="#111" textLength="15.8" lengthAdjust="spacingAndGlyphs">P38</text>
<text x="349.9" y="506" font-family='"Liberation Serif", serif' font-size="10.6" fill="#111" textLength="27.9" lengthAdjust="spacingAndGlyphs">P-ERK</text>
<text x="355.6" y="530.4" font-family='"Liberation Serif", serif' font-size="10.6" fill="#111" textLength="19.1" lengthAdjust="spacingAndGlyphs">ERK</text>
<text x="351.7" y="552.2" font-family='"Liberation Serif", serif' font-size="10.6" fill="#111" textLength="26.3" lengthAdjust="spacingAndGlyphs">P-JNK</text>
<text x="354.3" y="573.7" font-family='"Liberation Serif", serif' font-size="10.6" fill="#111" textLength="17.3" lengthAdjust="spacingAndGlyphs">JNK</text>
<text x="352.5" y="594.5" font-family='"Liberation Serif", serif' font-size="10.6" fill="#111" textLength="27.3" lengthAdjust="spacingAndGlyphs">β-actin</text>
<text x="176.1" y="466.2" font-family='"Liberation Serif", serif' font-size="12.6" fill="#111" textLength="34.5" lengthAdjust="spacingAndGlyphs">38 kDa</text>
<text x="176.1" y="486.6" font-family='"Liberation Serif", serif' font-size="12.6" fill="#111" textLength="34.5" lengthAdjust="spacingAndGlyphs">38 kDa</text>
<text x="176.1" y="506.9" font-family='"Liberation Serif", serif' font-size="12.6" fill="#111" textLength="34.5" lengthAdjust="spacingAndGlyphs">43 kDa</text>
<text x="176.1" y="529.4" font-family='"Liberation Serif", serif' font-size="12.6" fill="#111" textLength="34.5" lengthAdjust="spacingAndGlyphs">43 kDa</text>
<text x="176.1" y="552.5" font-family='"Liberation Serif", serif' font-size="12.6" fill="#111" textLength="34.5" lengthAdjust="spacingAndGlyphs">55 kDa</text>
<text x="176.1" y="573.7" font-family='"Liberation Serif", serif' font-size="12.6" fill="#111" textLength="34.5" lengthAdjust="spacingAndGlyphs">55 kDa</text>
<text x="176.1" y="592.9" font-family='"Liberation Serif", serif' font-size="12.6" fill="#111" textLength="34.5" lengthAdjust="spacingAndGlyphs">42 kDa</text>
<text x="514.4" y="465.5" font-family='"Liberation Serif", serif' font-size="12.6" fill="#111" textLength="35" lengthAdjust="spacingAndGlyphs">38 kDa</text>
<text x="514.4" y="485.5" font-family='"Liberation Serif", serif' font-size="12.6" fill="#111" textLength="35" lengthAdjust="spacingAndGlyphs">38 kDa</text>
<text x="514.4" y="505.8" font-family='"Liberation Serif", serif' font-size="12.6" fill="#111" textLength="35" lengthAdjust="spacingAndGlyphs">43 kDa</text>
<text x="514.4" y="529.1" font-family='"Liberation Serif", serif' font-size="12.6" fill="#111" textLength="35" lengthAdjust="spacingAndGlyphs">43 kDa</text>
<text x="514.4" y="550.9" font-family='"Liberation Serif", serif' font-size="12.6" fill="#111" textLength="35" lengthAdjust="spacingAndGlyphs">55 kDa</text>
<text x="514.4" y="572.4" font-family='"Liberation Serif", serif' font-size="12.6" fill="#111" textLength="35" lengthAdjust="spacingAndGlyphs">55 kDa</text>
<text x="514.4" y="591.7" font-family='"Liberation Serif", serif' font-size="12.6" fill="#111" textLength="35" lengthAdjust="spacingAndGlyphs">42 kDa</text>
<text x="55.3" y="443.5" font-family='"Liberation Serif", serif' font-size="10" fill="#111" textLength="32.7" lengthAdjust="spacingAndGlyphs">Ishikawa</text>
<text x="123.5" y="444.4" font-family='"Liberation Serif", serif' font-size="10" fill="#111" textLength="18.6" lengthAdjust="spacingAndGlyphs">KLE</text>
<text x="396.2" y="441.4" font-family='"Liberation Serif", serif' font-size="10" fill="#111" textLength="33.4" lengthAdjust="spacingAndGlyphs">Ishikawa</text>
<text x="466.6" y="440" font-family='"Liberation Serif", serif' font-size="10" fill="#111" textLength="18.9" lengthAdjust="spacingAndGlyphs">KLE</text>
<text x="38.7" y="623.2" font-family='"Liberation Serif", serif' font-size="10" fill="#111" transform="rotate(-34 38.7 623.2)">Vector</text>
<text x="74.6" y="621.2" font-family='"Liberation Serif", serif' font-size="10" fill="#111" transform="rotate(-34 74.6 621.2)">LSS</text>
<text x="108.2" y="623.7" font-family='"Liberation Serif", serif' font-size="10" fill="#111" transform="rotate(-34 108.2 623.7)">Vector</text>
<text x="142.6" y="620.7" font-family='"Liberation Serif", serif' font-size="10" fill="#111" transform="rotate(-34 142.6 620.7)">LSS</text>
<text x="386" y="624.2" font-family='"Liberation Serif", serif' font-size="10" fill="#111" transform="rotate(-34 386 624.2)">Vector</text>
<text x="416.7" y="622.7" font-family='"Liberation Serif", serif' font-size="10" fill="#111" transform="rotate(-34 416.7 622.7)">shLSS</text>
<text x="456.4" y="622" font-family='"Liberation Serif", serif' font-size="10" fill="#111" transform="rotate(-34 456.4 622)">Vector</text>
<text x="480.1" y="621.7" font-family='"Liberation Serif", serif' font-size="10" fill="#111" transform="rotate(-34 480.1 621.7)">shLSS</text>
<rect x="252.8" y="514.2" width="6" height="56.9" fill="#000" stroke="#111" stroke-width="0.6"/>
<rect x="261.8" y="490.87" width="5" height="80.23" fill="#847c3c" stroke="#111" stroke-width="0.6"/>
<line x1="264.3" y1="490.87" x2="264.3" y2="488.6" stroke="#222" stroke-width="0.45"/>
<line x1="263.1" y1="488.6" x2="265.5" y2="488.6" stroke="#222" stroke-width="0.45"/>
<text x="264.3" y="488.3" font-family='"Liberation Sans", sans-serif' font-size="9.6" fill="#222" text-anchor="middle">*</text>
<rect x="270.2" y="469.82" width="5.4" height="101.28" fill="#e8403f" stroke="#111" stroke-width="0.6"/>
<line x1="272.9" y1="469.82" x2="272.9" y2="469.25" stroke="#222" stroke-width="0.45"/>
<line x1="271.7" y1="469.25" x2="274.1" y2="469.25" stroke="#222" stroke-width="0.45"/>
<text x="272.9" y="468.95" font-family='"Liberation Sans", sans-serif' font-size="9.6" fill="#222" text-anchor="middle">*</text>
<rect x="284.2" y="514.2" width="6" height="56.9" fill="#000" stroke="#111" stroke-width="0.6"/>
<rect x="293.2" y="518.18" width="5" height="52.92" fill="#847c3c" stroke="#111" stroke-width="0.6"/>
<line x1="295.7" y1="518.18" x2="295.7" y2="517.61" stroke="#222" stroke-width="0.45"/>
<line x1="294.5" y1="517.61" x2="296.9" y2="517.61" stroke="#222" stroke-width="0.45"/>
<text x="296.3" y="513.01" font-family='"Liberation Sans", sans-serif' font-size="9.0" fill="#222" text-anchor="middle">ns</text>
<rect x="301.6" y="549.48" width="5.4" height="21.62" fill="#e8403f" stroke="#111" stroke-width="0.6"/>
<line x1="304.3" y1="549.48" x2="304.3" y2="547.2" stroke="#222" stroke-width="0.45"/>
<line x1="303.1" y1="547.2" x2="305.5" y2="547.2" stroke="#222" stroke-width="0.45"/>
<text x="304.3" y="546.9" font-family='"Liberation Sans", sans-serif' font-size="9.6" fill="#222" text-anchor="middle">*</text>
<rect x="314.9" y="514.2" width="6" height="56.9" fill="#000" stroke="#111" stroke-width="0.6"/>
<rect x="323.9" y="495.42" width="5" height="75.68" fill="#847c3c" stroke="#111" stroke-width="0.6"/>
<line x1="326.4" y1="495.42" x2="326.4" y2="493.72" stroke="#222" stroke-width="0.45"/>
<line x1="325.2" y1="493.72" x2="327.6" y2="493.72" stroke="#222" stroke-width="0.45"/>
<text x="326.4" y="493.42" font-family='"Liberation Sans", sans-serif' font-size="9.6" fill="#222" text-anchor="middle">*</text>
<rect x="332.3" y="509.65" width="5.4" height="61.45" fill="#e8403f" stroke="#111" stroke-width="0.6"/>
<line x1="335" y1="509.65" x2="335" y2="509.08" stroke="#222" stroke-width="0.45"/>
<line x1="333.8" y1="509.08" x2="336.2" y2="509.08" stroke="#222" stroke-width="0.45"/>
<text x="335" y="508.78" font-family='"Liberation Sans", sans-serif' font-size="9.6" fill="#222" text-anchor="middle">*</text>
<line x1="250.8" y1="456.8" x2="250.8" y2="571.7" stroke="#000" stroke-width="1.3"/>
<line x1="250.8" y1="571.1" x2="340.8" y2="571.1" stroke="#000" stroke-width="1.3"/>
<line x1="246" y1="571.1" x2="250.8" y2="571.1" stroke="#000" stroke-width="1.2"/>
<text x="245.2" y="574.2" font-family='"Liberation Sans", sans-serif' font-size="8.8" fill="#000" text-anchor="end" font-weight="bold">0.0</text>
<line x1="246" y1="542.65" x2="250.8" y2="542.65" stroke="#000" stroke-width="1.2"/>
<text x="245.2" y="545.75" font-family='"Liberation Sans", sans-serif' font-size="8.8" fill="#000" text-anchor="end" font-weight="bold">0.5</text>
<line x1="246" y1="514.2" x2="250.8" y2="514.2" stroke="#000" stroke-width="1.2"/>
<text x="245.2" y="517.3" font-family='"Liberation Sans", sans-serif' font-size="8.8" fill="#000" text-anchor="end" font-weight="bold">1.0</text>
<line x1="246" y1="485.75" x2="250.8" y2="485.75" stroke="#000" stroke-width="1.2"/>
<text x="245.2" y="488.85" font-family='"Liberation Sans", sans-serif' font-size="8.8" fill="#000" text-anchor="end" font-weight="bold">1.5</text>
<line x1="246" y1="457.3" x2="250.8" y2="457.3" stroke="#000" stroke-width="1.2"/>
<text x="245.2" y="460.4" font-family='"Liberation Sans", sans-serif' font-size="8.8" fill="#000" text-anchor="end" font-weight="bold">2.0</text>
<line x1="264.2" y1="571.1" x2="264.2" y2="575.3" stroke="#000" stroke-width="1.3"/>
<text x="266.6" y="581.9" font-family='"Liberation Sans", sans-serif' font-size="8.9" fill="#000" text-anchor="end" font-weight="bold" transform="rotate(-45 266.6 581.9)">p-JNK/JNK</text>
<line x1="295.4" y1="571.1" x2="295.4" y2="575.3" stroke="#000" stroke-width="1.3"/>
<text x="297.8" y="581.9" font-family='"Liberation Sans", sans-serif' font-size="8.9" fill="#000" text-anchor="end" font-weight="bold" transform="rotate(-45 297.8 581.9)">p-ERK/ERK</text>
<line x1="326.1" y1="571.1" x2="326.1" y2="575.3" stroke="#000" stroke-width="1.3"/>
<text x="328.5" y="581.9" font-family='"Liberation Sans", sans-serif' font-size="8.9" fill="#000" text-anchor="end" font-weight="bold" transform="rotate(-45 328.5 581.9)">P-P38/P38</text>
<text x="226" y="514.1" font-family='"Liberation Sans", sans-serif' font-size="10.4" fill="#000" text-anchor="middle" font-weight="bold" textLength="111" lengthAdjust="spacingAndGlyphs" transform="rotate(-90 226 514.1)">Relative protein level</text>
<rect x="283.4" y="457.8" width="12" height="3.6" fill="#000" stroke="#111" stroke-width="0.6"/>
<text x="302.4" y="462.4" font-family='"Liberation Sans", sans-serif' font-size="7.9" fill="#1a1a1a">Vector</text>
<rect x="283.4" y="468.1" width="12" height="3.6" fill="#847c3c" stroke="#111" stroke-width="0.6"/>
<text x="302.4" y="472.7" font-family='"Liberation Sans", sans-serif' font-size="7.9" fill="#1a1a1a">Ishikawa</text>
<rect x="283.4" y="478.6" width="12" height="3.6" fill="#e8403f" stroke="#111" stroke-width="0.6"/>
<text x="302.4" y="483.2" font-family='"Liberation Sans", sans-serif' font-size="7.9" fill="#1a1a1a">KLE</text>
<rect x="595.2" y="486.6" width="5.4" height="76" fill="#000" stroke="#111" stroke-width="0.6"/>
<rect x="603.4" y="542.08" width="5.4" height="20.52" fill="#847c3c" stroke="#111" stroke-width="0.6"/>
<line x1="606.1" y1="542.08" x2="606.1" y2="541.32" stroke="#222" stroke-width="0.45"/>
<line x1="604.9" y1="541.32" x2="607.3" y2="541.32" stroke="#222" stroke-width="0.45"/>
<text x="606.1" y="541.02" font-family='"Liberation Sans", sans-serif' font-size="9.0" fill="#444" text-anchor="middle">***</text>
<rect x="612.3" y="503.32" width="4.8" height="59.28" fill="#3a5bb5" stroke="#111" stroke-width="0.6"/>
<line x1="614.7" y1="503.32" x2="614.7" y2="501.8" stroke="#222" stroke-width="0.45"/>
<line x1="613.5" y1="501.8" x2="615.9" y2="501.8" stroke="#222" stroke-width="0.45"/>
<text x="614.7" y="501.5" font-family='"Liberation Sans", sans-serif' font-size="9.0" fill="#444" text-anchor="middle">**</text>
<rect x="626.4" y="486.6" width="5.4" height="76" fill="#000" stroke="#111" stroke-width="0.6"/>
<rect x="634.6" y="517.38" width="5.4" height="45.22" fill="#847c3c" stroke="#111" stroke-width="0.6"/>
<line x1="637.3" y1="517.38" x2="637.3" y2="515.86" stroke="#222" stroke-width="0.45"/>
<line x1="636.1" y1="515.86" x2="638.5" y2="515.86" stroke="#222" stroke-width="0.45"/>
<text x="637.3" y="515.56" font-family='"Liberation Sans", sans-serif' font-size="9.0" fill="#444" text-anchor="middle">***</text>
<rect x="643.5" y="501.8" width="4.8" height="60.8" fill="#3a5bb5" stroke="#111" stroke-width="0.6"/>
<line x1="645.9" y1="501.8" x2="645.9" y2="501.04" stroke="#222" stroke-width="0.45"/>
<line x1="644.7" y1="501.04" x2="647.1" y2="501.04" stroke="#222" stroke-width="0.45"/>
<text x="645.9" y="500.74" font-family='"Liberation Sans", sans-serif' font-size="9.0" fill="#444" text-anchor="middle">**</text>
<rect x="657.1" y="486.6" width="5.4" height="76" fill="#000" stroke="#111" stroke-width="0.6"/>
<rect x="665.3" y="475.96" width="5.4" height="86.64" fill="#847c3c" stroke="#111" stroke-width="0.6"/>
<line x1="668" y1="475.96" x2="668" y2="474.44" stroke="#222" stroke-width="0.45"/>
<line x1="666.8" y1="474.44" x2="669.2" y2="474.44" stroke="#222" stroke-width="0.45"/>
<text x="668" y="474.14" font-family='"Liberation Sans", sans-serif' font-size="9.0" fill="#444" text-anchor="middle">**</text>
<rect x="674.2" y="526.88" width="4.8" height="35.72" fill="#3a5bb5" stroke="#111" stroke-width="0.6"/>
<line x1="676.6" y1="526.88" x2="676.6" y2="525.36" stroke="#222" stroke-width="0.45"/>
<line x1="675.4" y1="525.36" x2="677.8" y2="525.36" stroke="#222" stroke-width="0.45"/>
<text x="676.6" y="525.06" font-family='"Liberation Sans", sans-serif' font-size="9.0" fill="#444" text-anchor="middle">**</text>
<line x1="592.4" y1="448.1" x2="592.4" y2="563.2" stroke="#000" stroke-width="1.3"/>
<line x1="592.4" y1="562.6" x2="682.2" y2="562.6" stroke="#000" stroke-width="1.3"/>
<line x1="587.6" y1="562.6" x2="592.4" y2="562.6" stroke="#000" stroke-width="1.2"/>
<text x="586.8" y="565.7" font-family='"Liberation Sans", sans-serif' font-size="8.8" fill="#000" text-anchor="end" font-weight="bold">0.0</text>
<line x1="587.6" y1="524.6" x2="592.4" y2="524.6" stroke="#000" stroke-width="1.2"/>
<text x="586.8" y="527.7" font-family='"Liberation Sans", sans-serif' font-size="8.8" fill="#000" text-anchor="end" font-weight="bold">0.5</text>
<line x1="587.6" y1="486.6" x2="592.4" y2="486.6" stroke="#000" stroke-width="1.2"/>
<text x="586.8" y="489.7" font-family='"Liberation Sans", sans-serif' font-size="8.8" fill="#000" text-anchor="end" font-weight="bold">1.0</text>
<line x1="587.6" y1="448.6" x2="592.4" y2="448.6" stroke="#000" stroke-width="1.2"/>
<text x="586.8" y="451.7" font-family='"Liberation Sans", sans-serif' font-size="8.8" fill="#000" text-anchor="end" font-weight="bold">1.5</text>
<line x1="606.3" y1="562.6" x2="606.3" y2="566.8" stroke="#000" stroke-width="1.3"/>
<text x="608.7" y="573.4" font-family='"Liberation Sans", sans-serif' font-size="8.9" fill="#000" text-anchor="end" font-weight="bold" transform="rotate(-45 608.7 573.4)">p-JNK/JNK</text>
<line x1="636.5" y1="562.6" x2="636.5" y2="566.8" stroke="#000" stroke-width="1.3"/>
<text x="638.9" y="573.4" font-family='"Liberation Sans", sans-serif' font-size="8.9" fill="#000" text-anchor="end" font-weight="bold" transform="rotate(-45 638.9 573.4)">p-ERK/ERK</text>
<line x1="667.7" y1="562.6" x2="667.7" y2="566.8" stroke="#000" stroke-width="1.3"/>
<text x="670.1" y="573.4" font-family='"Liberation Sans", sans-serif' font-size="8.9" fill="#000" text-anchor="end" font-weight="bold" transform="rotate(-45 670.1 573.4)">P-P38/P38</text>
<text x="565.6" y="504.9" font-family='"Liberation Sans", sans-serif' font-size="10.4" fill="#000" text-anchor="middle" font-weight="bold" textLength="112" lengthAdjust="spacingAndGlyphs" transform="rotate(-90 565.6 504.9)">Relative protein level</text>
<rect x="609.9" y="449.7" width="11.9" height="3.6" fill="#000" stroke="#111" stroke-width="0.6"/>
<text x="628.3" y="454.3" font-family='"Liberation Sans", sans-serif' font-size="7.9" fill="#1a1a1a">Vector</text>
<rect x="609.9" y="460.3" width="11.9" height="3.6" fill="#847c3c" stroke="#111" stroke-width="0.6"/>
<text x="628.3" y="464.9" font-family='"Liberation Sans", sans-serif' font-size="7.9" fill="#1a1a1a">Ishikawa</text>
<rect x="609.9" y="470" width="11.9" height="3.6" fill="#3a5bb5" stroke="#111" stroke-width="0.6"/>
<text x="628.3" y="474.6" font-family='"Liberation Sans", sans-serif' font-size="7.9" fill="#1a1a1a">KLE</text>
</svg></body></html>
